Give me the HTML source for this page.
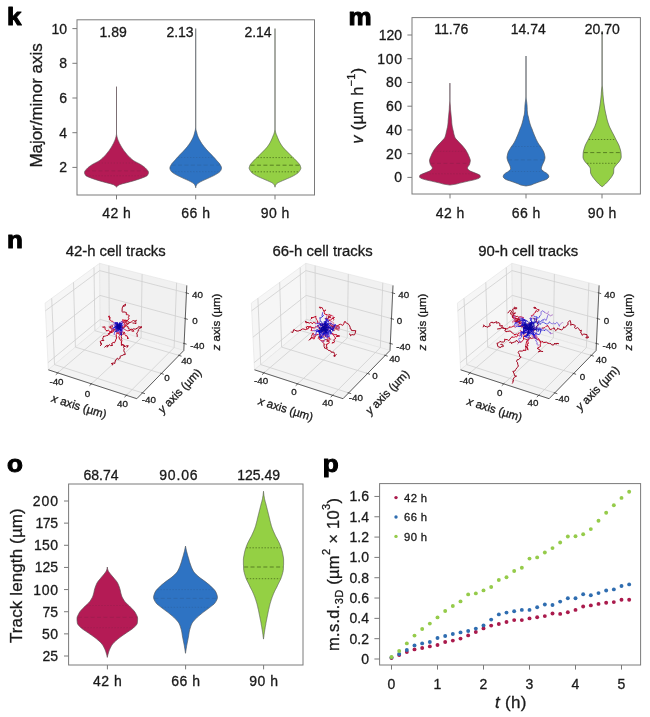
<!DOCTYPE html>
<html><head><meta charset="utf-8"><title>figure</title>
<style>
html,body{margin:0;padding:0;background:#fff;}
body{width:650px;height:717px;overflow:hidden;}
svg{display:block;font-family:"Liberation Sans",sans-serif;will-change:transform;}
text{stroke:#1a1a1a;stroke-width:0.3px;}
text.pl{stroke:#000;stroke-width:1px;}
</style></head><body>
<svg width="650" height="717" viewBox="0 0 650 717">
<rect width="650" height="717" fill="#fff"/>
<g id="plots3d">
<polygon points="48.3,369.8 100.3,326.2 99.6,263.3 45.1,303.1" fill="#f6f6f6" stroke="#e3e3e3" stroke-width="0.6"/>
<polygon points="100.3,326.2 183.8,350.5 186.8,285.4 99.6,263.3" fill="#f1f1f1" stroke="#e3e3e3" stroke-width="0.6"/>
<polygon points="48.3,369.8 136.8,398.7 183.8,350.5 100.3,326.2" fill="#f3f3f3" stroke="#e3e3e3" stroke-width="0.6"/>
<line x1="57.7" y1="372.9" x2="109.3" y2="328.8" stroke="#cfcfcf" stroke-width="0.8"/>
<line x1="109.3" y1="328.8" x2="108.9" y2="265.7" stroke="#cfcfcf" stroke-width="0.8"/>
<line x1="54.5" y1="364.6" x2="142.5" y2="392.9" stroke="#cfcfcf" stroke-width="0.8"/>
<line x1="54.5" y1="364.6" x2="51.7" y2="298.3" stroke="#cfcfcf" stroke-width="0.8"/>
<line x1="47.9" y1="362.7" x2="100.2" y2="319.4" stroke="#cfcfcf" stroke-width="0.8"/>
<line x1="100.2" y1="319.4" x2="184.1" y2="343.5" stroke="#cfcfcf" stroke-width="0.8"/>
<line x1="91.4" y1="383.9" x2="141.1" y2="338.0" stroke="#cfcfcf" stroke-width="0.8"/>
<line x1="141.1" y1="338.0" x2="142.1" y2="274.1" stroke="#cfcfcf" stroke-width="0.8"/>
<line x1="75.4" y1="347.1" x2="161.4" y2="373.5" stroke="#cfcfcf" stroke-width="0.8"/>
<line x1="75.4" y1="347.1" x2="73.5" y2="282.3" stroke="#cfcfcf" stroke-width="0.8"/>
<line x1="46.7" y1="337.2" x2="100.0" y2="295.4" stroke="#cfcfcf" stroke-width="0.8"/>
<line x1="100.0" y1="295.4" x2="185.3" y2="318.6" stroke="#cfcfcf" stroke-width="0.8"/>
<line x1="126.4" y1="395.3" x2="174.1" y2="347.6" stroke="#cfcfcf" stroke-width="0.8"/>
<line x1="174.1" y1="347.6" x2="176.6" y2="282.8" stroke="#cfcfcf" stroke-width="0.8"/>
<line x1="94.9" y1="330.7" x2="179.0" y2="355.4" stroke="#cfcfcf" stroke-width="0.8"/>
<line x1="94.9" y1="330.7" x2="94.0" y2="267.4" stroke="#cfcfcf" stroke-width="0.8"/>
<line x1="45.4" y1="310.8" x2="99.7" y2="270.6" stroke="#cfcfcf" stroke-width="0.8"/>
<line x1="99.7" y1="270.6" x2="186.5" y2="293.0" stroke="#cfcfcf" stroke-width="0.8"/>
<line x1="48.3" y1="369.8" x2="136.8" y2="398.7" stroke="#3a3a3a" stroke-width="0.8"/>
<line x1="136.8" y1="398.7" x2="183.8" y2="350.5" stroke="#3a3a3a" stroke-width="0.8"/>
<line x1="183.8" y1="350.5" x2="186.8" y2="285.4" stroke="#3a3a3a" stroke-width="0.8"/>
<line x1="58.5" y1="372.2" x2="55.8" y2="374.7" stroke="#3a3a3a" stroke-width="0.8"/>
<line x1="141.5" y1="392.6" x2="145.0" y2="393.7" stroke="#3a3a3a" stroke-width="0.8"/>
<line x1="183.1" y1="343.2" x2="186.6" y2="344.2" stroke="#3a3a3a" stroke-width="0.8"/>
<line x1="92.1" y1="383.2" x2="89.5" y2="385.7" stroke="#3a3a3a" stroke-width="0.8"/>
<line x1="160.4" y1="373.2" x2="163.8" y2="374.3" stroke="#3a3a3a" stroke-width="0.8"/>
<line x1="184.3" y1="318.3" x2="187.8" y2="319.4" stroke="#3a3a3a" stroke-width="0.8"/>
<line x1="127.2" y1="394.6" x2="124.5" y2="397.1" stroke="#3a3a3a" stroke-width="0.8"/>
<line x1="178.0" y1="355.1" x2="181.5" y2="356.2" stroke="#3a3a3a" stroke-width="0.8"/>
<line x1="185.5" y1="292.6" x2="188.9" y2="293.7" stroke="#3a3a3a" stroke-width="0.8"/>
<path d="M122.1 322.3 L123.1 321.7M124.4 324.1 L124.5 326.2M111.9 329.7 L111.3 331.5M113.9 328.0 L112.0 328.4M116.4 330.7 L117.6 331.8M119.4 331.1 L119.2 332.8M122.1 331.9 L124.4 332.3M114.8 330.2 L112.7 328.6M122.7 322.2 L122.6 320.0" fill="none" stroke="#dd5e86" stroke-width="1.0" stroke-linejoin="round" stroke-linecap="round"/>
<path d="M118.7 326.2 L118.1 327.1 L117.1 326.2 L118.3 326.9M111.0 325.1 L111.1 326.0 L110.7 326.4 L109.1 326.9M115.1 325.3 L115.6 326.4 L116.0 325.9 L115.8 325.5M120.7 333.0 L122.3 332.1 L123.3 332.5 L121.8 331.1M117.7 332.7 L116.5 332.2 L118.7 332.5 L118.6 333.1M120.7 326.8 L119.0 328.1 L120.1 328.5 L121.9 327.2M116.4 330.3 L117.6 330.3 L118.0 329.8 L118.4 329.9" fill="none" stroke="#dd5e86" stroke-width="0.75" stroke-linejoin="round" stroke-linecap="round"/>
<path d="M123.1 321.7 L123.9 320.4 L125.7 320.5 L127.3 320.5 L128.6 319.1M122.2 322.0 L123.8 322.8 L125.6 324.3 L126.7 323.7M124.5 326.2 L126.1 325.7 L127.8 326.5M113.4 322.6 L112.7 321.2 L112.0 321.4 L110.5 320.6 L109.8 319.7M111.3 331.5 L109.6 331.9 L108.7 330.2 L106.9 330.8M112.0 328.4 L112.1 329.9 L111.7 332.2M117.6 331.8 L116.8 333.7 L116.1 334.7 L116.3 335.9M119.7 331.1 L120.6 332.1 L120.1 334.1 L121.6 335.3M119.2 332.8 L118.9 333.8 L119.6 335.5 L118.7 336.7 L119.5 338.0M124.7 329.5 L125.3 329.8 L126.4 330.4 L127.7 330.9 L129.8 330.4M124.4 332.3 L124.9 333.4 L124.8 334.3 L125.7 335.9 L126.7 335.8M112.7 328.6 L113.5 331.5 L111.8 332.3M122.6 320.0 L124.3 320.1 L125.4 321.5 L125.0 322.3" fill="none" stroke="#d11433" stroke-width="1.0" stroke-linejoin="round" stroke-linecap="round"/>
<path d="M118.3 326.9 L118.1 327.6 L117.8 328.9 L117.3 328.5 L119.1 328.6M109.1 326.9 L110.4 328.0 L111.4 328.7 L111.0 327.7 L110.4 327.6M115.8 325.5 L116.4 325.3 L115.9 324.3 L115.2 323.7 L116.3 323.1M121.8 331.1 L121.3 329.3 L120.9 327.9 L122.1 328.7 L124.3 327.6M118.6 333.1 L116.4 333.1 L119.0 333.1 L119.7 332.9 L120.7 333.1M121.9 327.2 L123.4 327.0 L125.3 325.7 L124.6 323.3 L123.7 322.4M118.4 329.9 L118.7 329.1 L117.7 329.1 L117.3 329.6 L116.8 329.9" fill="none" stroke="#d11433" stroke-width="0.75" stroke-linejoin="round" stroke-linecap="round"/>
<path d="M128.6 319.1 L129.1 318.8 L128.3 317.4 L129.4 315.6 L127.7 314.7 L126.3 314.7 L126.3 312.9M126.7 323.7 L128.6 323.8 L128.8 322.5 L131.0 322.3 L132.1 321.4 L132.6 321.1 L133.6 320.0 L134.8 321.4M127.8 326.5 L128.5 329.0 L129.9 329.1 L131.3 330.0 L132.0 330.0 L133.5 328.8 L135.3 329.2 L136.3 328.6M109.8 319.7 L109.5 318.0 L108.9 317.0 L109.1 316.4 L109.6 316.2 L108.4 316.4 L109.8 317.0 L110.2 318.0M106.9 330.8 L105.5 329.9 L105.3 329.6 L104.9 327.9 L105.1 326.9 L103.6 326.9 L103.2 327.6 L103.0 327.6 L103.0 326.8M111.7 332.2 L110.2 332.6 L109.0 333.2 L108.6 334.6 L107.9 335.4 L106.3 335.7 L105.6 336.0 L103.5 336.4M116.3 335.9 L116.2 337.0 L116.7 338.0 L116.0 339.2 L115.4 341.0 L114.4 342.9 L113.1 342.3 L111.9 343.5M121.6 335.3 L121.2 336.8 L121.8 338.4 L121.4 339.2 L121.9 340.5 L121.6 341.9 L121.4 343.6 L121.4 345.1M119.5 338.0 L119.2 338.9 L121.0 340.4 L121.4 341.4 L121.3 343.1 L122.1 344.3 L123.7 345.1M129.8 330.4 L130.2 329.7 L131.7 329.3 L132.7 329.9 L134.1 331.2 L133.3 331.2 L132.1 331.2M126.7 335.8 L127.3 336.2 L128.0 338.3 L128.3 338.7 L128.5 338.4 L127.6 337.4 L127.5 338.6M111.8 332.3 L110.7 331.7 L109.7 333.7 L108.9 334.6 L108.4 333.8 L108.2 333.4 L108.9 333.7 L109.9 333.1M125.0 322.3 L126.8 322.2 L127.1 322.3 L126.9 321.2 L126.3 321.3 L125.9 321.3" fill="none" stroke="#ba0c29" stroke-width="1.0" stroke-linejoin="round" stroke-linecap="round"/>
<path d="M119.1 328.6 L118.2 329.6 L116.5 328.8 L117.4 328.5M110.4 327.6 L110.6 326.7 L111.6 325.8 L112.6 325.9M116.3 323.1 L117.2 323.6 L117.7 323.7 L117.5 324.1M124.3 327.6 L123.0 327.5 L121.8 328.3 L121.9 329.3M120.7 333.1 L121.6 332.6 L121.7 333.3 L120.8 333.8M123.7 322.4 L124.5 321.6 L124.8 319.9 L127.6 320.7M116.8 329.9 L115.6 330.6 L114.6 329.8 L114.5 329.2" fill="none" stroke="#ba0c29" stroke-width="0.75" stroke-linejoin="round" stroke-linecap="round"/>
<path d="M121.5 321.5 L122.1 322.3M122.2 323.9 L122.2 322.0M122.7 325.5 L124.4 324.1M115.4 322.8 L113.4 322.6M112.8 328.5 L111.9 329.7M114.4 327.3 L113.9 328.0M121.7 329.1 L119.7 331.1M123.3 328.5 L124.7 329.5" fill="none" stroke="#a563c2" stroke-width="1.0" stroke-linejoin="round" stroke-linecap="round"/>
<path d="M119.6 322.9 L119.9 323.8 L120.1 324.4 L120.0 325.5 L118.7 326.2M114.2 324.8 L113.3 324.1 L112.5 325.2 L111.8 325.1 L111.0 325.1M115.0 325.6 L114.7 326.1 L114.3 326.0 L115.1 325.9 L115.1 325.3M117.5 330.5 L119.7 329.4 L119.5 331.6 L119.4 333.6 L120.7 333.0M118.6 328.7 L120.0 330.2 L119.2 330.2 L118.7 330.7 L117.7 332.7M121.6 328.5 L121.8 327.3 L121.9 326.2 L122.2 327.4 L120.7 326.8M119.0 329.2 L118.2 329.5 L118.3 330.1 L117.1 330.2 L116.4 330.3" fill="none" stroke="#a563c2" stroke-width="0.75" stroke-linejoin="round" stroke-linecap="round"/>
<path d="M117.7 326.2 L117.9 327.6" fill="none" stroke="#a563c2" stroke-width="0.7" stroke-linejoin="round" stroke-linecap="round"/>
<path d="M126.3 312.9 L125.4 312.0 L122.4 312.0 L122.0 311.7 L122.2 308.9 L122.2 307.9 L123.2 306.3 L125.3 305.8 L125.5 304.0 L124.6 304.8 L123.1 305.7 L123.0 306.4M134.8 321.4 L136.4 320.3 L135.7 321.7 L135.8 322.4 L136.0 323.4 L136.0 323.7 L134.5 323.2 L132.8 323.0M136.3 328.6 L137.7 328.1 L138.8 326.4 L140.9 328.0 L141.1 326.2 L141.4 327.6 L139.8 328.0 L138.8 329.0 L138.5 329.7 L137.9 331.6 L137.4 332.6 L137.2 332.9 L136.7 333.1 L137.2 334.9 L137.2 336.5M103.5 336.4 L103.2 337.4 L102.6 339.0 L103.9 340.6 L101.7 340.5 L100.1 341.6 L100.7 343.0 L101.3 344.3 L100.4 345.7 L101.3 344.6 L101.3 343.1M111.9 343.5 L112.2 345.4 L112.6 345.4 L110.7 345.7 L109.3 344.6 L107.6 346.8 L106.9 347.2 L107.5 346.1 L107.4 345.3 L106.1 345.9 L104.7 347.2M121.4 345.1 L122.6 344.8 L124.0 346.6 L125.6 346.4 L126.5 345.8 L128.3 345.8 L127.3 346.5 L126.9 347.5 L127.4 347.1 L127.7 346.3M123.7 345.1 L124.7 345.5 L123.5 347.5 L124.3 348.7 L123.8 350.4 L124.2 352.0 L124.8 352.6 L125.3 354.5 L123.1 354.8 L122.7 355.4 L121.4 355.6 L120.0 356.5 L120.1 358.1 L118.8 359.4 L117.3 358.1 L117.1 358.8 L115.5 360.0 L115.0 362.1 L114.8 363.5 L113.5 363.0 L111.4 363.5 L112.4 363.5 L112.9 364.9 L112.4 365.0 L112.3 364.6" fill="none" stroke="#a4041f" stroke-width="1.0" stroke-linejoin="round" stroke-linecap="round"/>
<path d="M117.4 328.5 L118.4 327.6 L119.4 327.3 L119.1 328.1 L119.8 328.9M112.6 325.9 L112.2 327.4 L110.9 326.7 L110.2 326.6 L110.2 327.1M117.5 324.1 L116.7 324.5 L116.7 323.8 L116.8 322.9 L117.1 322.6M121.9 329.3 L122.4 327.5 L123.0 326.7 L122.1 326.9 L120.6 326.9M120.8 333.8 L123.0 334.4 L124.1 333.5 L123.6 332.7 L123.4 334.0M127.6 320.7 L129.4 322.7 L128.2 324.1 L125.7 325.7 L125.1 326.6M114.5 329.2 L114.0 329.3 L113.7 329.8 L113.1 330.3 L113.1 330.8" fill="none" stroke="#a4041f" stroke-width="0.75" stroke-linejoin="round" stroke-linecap="round"/>
<path d="M119.5 323.1 L121.5 321.5M121.1 325.5 L122.7 325.5M113.8 327.9 L112.8 328.5M115.5 326.3 L114.4 327.3M118.3 330.2 L116.4 330.7M120.8 329.9 L119.4 331.1M121.4 330.6 L122.1 331.9M115.8 328.9 L114.8 330.2M121.4 323.8 L122.7 322.2" fill="none" stroke="#5b40d9" stroke-width="1.0" stroke-linejoin="round" stroke-linecap="round"/>
<path d="M117.7 323.3 L116.9 322.8 L118.6 323.5 L119.6 322.9M115.7 323.7 L115.0 322.6 L114.7 323.5 L114.2 324.8M117.4 326.5 L116.3 326.8 L115.1 326.6 L115.0 325.6M118.0 331.1 L116.2 331.7 L117.2 331.5 L117.5 330.5M116.9 326.8 L115.2 328.3 L116.6 327.6 L118.6 328.7M120.1 332.4 L122.0 330.4 L122.9 330.3 L121.6 328.5M118.5 330.4 L118.6 329.6 L119.4 329.3 L119.0 329.2" fill="none" stroke="#5b40d9" stroke-width="0.75" stroke-linejoin="round" stroke-linecap="round"/>
<path d="M119.3 324.6 L118.3 324.7 L117.7 326.2M118.0 325.4 L119.0 326.0 L119.7 325.4" fill="none" stroke="#5b40d9" stroke-width="0.7" stroke-linejoin="round" stroke-linecap="round"/>
<path d="M119.9 323.4 L122.2 323.9M117.4 323.0 L115.4 322.8M115.1 327.1 L113.8 327.9M118.5 328.9 L118.3 330.2M119.5 328.5 L121.7 329.1M119.1 329.3 L120.8 329.9M121.3 327.0 L122.6 327.9 L123.3 328.5M120.4 330.3 L121.4 330.6M116.2 327.4 L115.8 328.9" fill="none" stroke="#1914d8" stroke-width="1.0" stroke-linejoin="round" stroke-linecap="round"/>
<path d="M117.5 324.1 L116.9 323.4 L117.8 324.2 L117.7 323.3M117.4 324.2 L116.4 323.0 L115.7 322.9 L115.7 323.7M117.0 325.6 L117.4 326.2 L117.8 326.1 L117.4 326.5M118.0 327.1 L119.6 327.5 L118.1 329.4 L118.0 331.1M120.9 327.6 L118.8 328.9 L118.0 327.1 L116.9 326.8M121.6 334.7 L120.1 334.8 L121.0 333.3 L120.1 332.4M116.3 328.8 L117.7 329.0 L118.4 330.0 L118.5 330.4" fill="none" stroke="#1914d8" stroke-width="0.75" stroke-linejoin="round" stroke-linecap="round"/>
<path d="M120.5 324.6 L120.0 324.1 L119.4 324.1 L119.3 324.6M118.1 326.9 L117.7 325.6 L117.3 325.9 L118.0 325.4M116.7 325.8 L115.3 326.4 L115.9 327.1 L117.2 327.7M115.2 331.2 L114.6 332.2 L114.3 333.4 L114.2 334.5" fill="none" stroke="#1914d8" stroke-width="0.7" stroke-linejoin="round" stroke-linecap="round"/>
<path d="M119.4 325.1 L119.5 323.1M119.7 325.0 L119.9 323.4M120.2 326.9 L121.1 325.5M117.7 324.7 L117.4 323.0M117.0 326.6 L116.5 326.9 L115.1 327.1M117.4 326.7 L115.5 326.3M118.6 326.7 L118.5 328.9M118.8 327.7 L119.5 328.5M119.1 327.8 L119.1 329.3M119.5 327.4 L121.3 327.0M119.9 327.7 L120.4 330.3M117.3 326.9 L116.2 327.4M119.6 325.6 L121.5 324.9 L121.4 323.8" fill="none" stroke="#110cba" stroke-width="1.0" stroke-linejoin="round" stroke-linecap="round"/>
<path d="M119.4 327.0 L119.0 325.4 L118.2 324.6 L117.5 324.1M119.9 325.3 L120.0 324.7 L119.2 324.4 L117.4 324.2M119.5 326.4 L118.3 326.0 L117.6 325.9 L117.0 325.6M117.0 324.5 L115.1 323.5 L116.4 325.2 L118.0 327.1M118.5 328.1 L119.1 326.7 L120.1 327.1 L120.9 327.6M121.0 329.5 L121.1 331.5 L121.3 332.2 L121.6 334.7M117.5 328.3 L116.5 328.7 L115.8 329.1 L116.3 328.8" fill="none" stroke="#110cba" stroke-width="0.75" stroke-linejoin="round" stroke-linecap="round"/>
<path d="M120.9 327.0 L120.6 326.1 L120.5 324.6M117.1 327.9 L117.6 327.7 L118.1 326.9M118.6 325.9 L117.8 325.6 L117.5 325.9 L116.7 325.8M116.1 331.6 L115.1 331.8 L115.4 331.5 L115.2 331.2" fill="none" stroke="#110cba" stroke-width="0.7" stroke-linejoin="round" stroke-linecap="round"/>
<path d="M118.5 326.0 L119.4 325.1M118.5 326.0 L119.7 325.0M118.5 326.0 L120.2 326.9M118.5 326.0 L117.7 324.7M118.5 326.0 L117.0 326.6M118.5 326.0 L117.4 326.7M118.5 326.0 L118.6 326.7M118.5 326.0 L118.8 327.7M118.5 326.0 L119.1 327.8M118.5 326.0 L119.5 327.4M118.5 326.0 L119.5 327.1 L119.9 327.7M118.5 326.0 L117.3 326.9M118.5 326.0 L119.6 325.6" fill="none" stroke="#09049b" stroke-width="1.0" stroke-linejoin="round" stroke-linecap="round"/>
<path d="M119.6 325.7 L120.6 325.5 L120.0 326.3 L119.4 327.0M119.2 324.9 L119.3 326.3 L118.5 326.1 L119.9 325.3M119.8 326.4 L120.6 326.4 L120.7 325.7 L119.5 326.4M120.2 326.7 L119.5 325.0 L118.9 325.4 L117.0 324.5M116.8 324.9 L117.5 326.4 L118.0 327.7 L118.5 328.1M120.0 327.1 L119.2 328.0 L119.2 329.3 L121.0 329.5M117.8 326.3 L117.3 326.3 L117.8 327.3 L117.5 328.3" fill="none" stroke="#09049b" stroke-width="0.75" stroke-linejoin="round" stroke-linecap="round"/>
<path d="M118.4 328.0 L120.0 328.3 L120.9 327.0M118.4 325.4 L118.5 326.3 L117.6 327.6 L117.1 327.9M118.7 325.1 L119.1 326.0 L118.6 325.2 L119.7 325.1 L118.6 325.9M118.5 327.6 L117.3 328.4 L116.9 330.0 L116.7 330.4 L116.1 331.6" fill="none" stroke="#09049b" stroke-width="0.7" stroke-linejoin="round" stroke-linecap="round"/>
<text x="56.5" y="385.0" font-size="9.8" text-anchor="middle" fill="#1a1a1a" >-40</text>
<text x="87.6" y="397.4" font-size="9.8" text-anchor="middle" fill="#1a1a1a" >0</text>
<text x="122.5" y="407.4" font-size="9.8" text-anchor="middle" fill="#1a1a1a" >40</text>
<text x="186.6" y="364.0" font-size="9.8" text-anchor="middle" fill="#1a1a1a" >40</text>
<text x="167.1" y="381.2" font-size="9.8" text-anchor="middle" fill="#1a1a1a" >0</text>
<text x="148.8" y="403.0" font-size="9.8" text-anchor="middle" fill="#1a1a1a" >-40</text>
<text x="197.5" y="298.1" font-size="9.8" text-anchor="middle" fill="#1a1a1a" >40</text>
<text x="195.1" y="323.8" font-size="9.8" text-anchor="middle" fill="#1a1a1a" >0</text>
<text x="197.4" y="349.3" font-size="9.8" text-anchor="middle" fill="#1a1a1a" >-40</text>
<text transform="translate(78.0 410.0) rotate(17.3)" font-size="11.6" text-anchor="middle" fill="#1a1a1a"><tspan font-style="italic">x</tspan> axis (µm)</text>
<text transform="translate(182.4 393.6) rotate(-46)" font-size="11.6" text-anchor="middle" fill="#1a1a1a"><tspan font-style="italic">y</tspan> axis (µm)</text>
<text transform="translate(220.0 322.0) rotate(-90)" font-size="11.6" text-anchor="middle" fill="#1a1a1a"><tspan font-style="italic">z</tspan> axis (µm)</text>
<text x="115.7" y="255.6" font-size="14.9" text-anchor="middle" fill="#1a1a1a">42-h cell tracks</text>
<polygon points="254.5,369.8 306.5,326.2 305.8,263.3 251.3,303.1" fill="#f6f6f6" stroke="#e3e3e3" stroke-width="0.6"/>
<polygon points="306.5,326.2 390.0,350.5 393.0,285.4 305.8,263.3" fill="#f1f1f1" stroke="#e3e3e3" stroke-width="0.6"/>
<polygon points="254.5,369.8 343.0,398.7 390.0,350.5 306.5,326.2" fill="#f3f3f3" stroke="#e3e3e3" stroke-width="0.6"/>
<line x1="263.9" y1="372.9" x2="315.5" y2="328.8" stroke="#cfcfcf" stroke-width="0.8"/>
<line x1="315.5" y1="328.8" x2="315.1" y2="265.7" stroke="#cfcfcf" stroke-width="0.8"/>
<line x1="260.7" y1="364.6" x2="348.7" y2="392.9" stroke="#cfcfcf" stroke-width="0.8"/>
<line x1="260.7" y1="364.6" x2="257.9" y2="298.3" stroke="#cfcfcf" stroke-width="0.8"/>
<line x1="254.1" y1="362.7" x2="306.4" y2="319.4" stroke="#cfcfcf" stroke-width="0.8"/>
<line x1="306.4" y1="319.4" x2="390.3" y2="343.5" stroke="#cfcfcf" stroke-width="0.8"/>
<line x1="297.6" y1="383.9" x2="347.3" y2="338.0" stroke="#cfcfcf" stroke-width="0.8"/>
<line x1="347.3" y1="338.0" x2="348.3" y2="274.1" stroke="#cfcfcf" stroke-width="0.8"/>
<line x1="281.6" y1="347.1" x2="367.6" y2="373.5" stroke="#cfcfcf" stroke-width="0.8"/>
<line x1="281.6" y1="347.1" x2="279.7" y2="282.3" stroke="#cfcfcf" stroke-width="0.8"/>
<line x1="252.9" y1="337.2" x2="306.2" y2="295.4" stroke="#cfcfcf" stroke-width="0.8"/>
<line x1="306.2" y1="295.4" x2="391.5" y2="318.6" stroke="#cfcfcf" stroke-width="0.8"/>
<line x1="332.6" y1="395.3" x2="380.3" y2="347.6" stroke="#cfcfcf" stroke-width="0.8"/>
<line x1="380.3" y1="347.6" x2="382.8" y2="282.8" stroke="#cfcfcf" stroke-width="0.8"/>
<line x1="301.1" y1="330.7" x2="385.2" y2="355.4" stroke="#cfcfcf" stroke-width="0.8"/>
<line x1="301.1" y1="330.7" x2="300.2" y2="267.4" stroke="#cfcfcf" stroke-width="0.8"/>
<line x1="251.6" y1="310.8" x2="305.9" y2="270.6" stroke="#cfcfcf" stroke-width="0.8"/>
<line x1="305.9" y1="270.6" x2="392.7" y2="293.0" stroke="#cfcfcf" stroke-width="0.8"/>
<line x1="254.5" y1="369.8" x2="343.0" y2="398.7" stroke="#3a3a3a" stroke-width="0.8"/>
<line x1="343.0" y1="398.7" x2="390.0" y2="350.5" stroke="#3a3a3a" stroke-width="0.8"/>
<line x1="390.0" y1="350.5" x2="393.0" y2="285.4" stroke="#3a3a3a" stroke-width="0.8"/>
<line x1="264.7" y1="372.2" x2="262.0" y2="374.7" stroke="#3a3a3a" stroke-width="0.8"/>
<line x1="347.7" y1="392.6" x2="351.2" y2="393.7" stroke="#3a3a3a" stroke-width="0.8"/>
<line x1="389.3" y1="343.2" x2="392.8" y2="344.2" stroke="#3a3a3a" stroke-width="0.8"/>
<line x1="298.3" y1="383.2" x2="295.7" y2="385.7" stroke="#3a3a3a" stroke-width="0.8"/>
<line x1="366.6" y1="373.2" x2="370.0" y2="374.3" stroke="#3a3a3a" stroke-width="0.8"/>
<line x1="390.5" y1="318.3" x2="394.0" y2="319.4" stroke="#3a3a3a" stroke-width="0.8"/>
<line x1="333.4" y1="394.6" x2="330.7" y2="397.1" stroke="#3a3a3a" stroke-width="0.8"/>
<line x1="384.2" y1="355.1" x2="387.7" y2="356.2" stroke="#3a3a3a" stroke-width="0.8"/>
<line x1="391.7" y1="292.6" x2="395.1" y2="293.7" stroke="#3a3a3a" stroke-width="0.8"/>
<path d="M326.5 317.3 L326.7 316.7 L327.1 314.7M315.3 327.4 L314.1 328.0M319.8 334.0 L317.8 334.5M331.8 334.1 L333.2 334.6M332.2 329.4 L332.4 328.1 L333.7 327.0M330.4 332.8 L331.0 333.4M313.7 335.3 L313.8 337.0M327.8 338.5 L327.9 339.8M319.3 322.1 L317.6 322.4M326.7 319.3 L329.4 320.5M313.0 330.6 L311.2 330.6" fill="none" stroke="#dd5e86" stroke-width="1.0" stroke-linejoin="round" stroke-linecap="round"/>
<path d="M320.3 325.6 L320.5 326.3 L320.2 325.9 L319.7 324.8 L318.9 325.3M327.3 335.1 L328.0 336.0 L327.6 337.8 L327.5 336.4 L328.9 336.9M322.4 323.8 L321.4 323.5 L322.1 323.7 L323.2 324.3 L321.3 325.8M339.4 328.6 L339.7 329.1 L338.0 329.0 L337.9 327.5 L339.4 327.4M322.6 334.7 L322.2 333.8 L322.5 334.4 L324.0 334.3 L323.6 334.8M330.9 321.2 L333.6 322.6 L333.9 324.7 L331.4 326.7 L332.6 326.6M322.3 328.3 L324.8 328.5 L326.8 328.3 L328.5 328.5 L327.9 327.0M329.0 319.4 L330.5 319.3 L332.2 318.2 L333.4 316.0 L330.9 315.1M327.2 336.7 L326.6 336.1 L326.1 335.3 L326.6 335.8 L327.1 335.9" fill="none" stroke="#dd5e86" stroke-width="0.75" stroke-linejoin="round" stroke-linecap="round"/>
<path d="M327.1 314.7 L324.7 314.1 L324.3 312.8 L324.2 311.5 L325.6 310.2M315.9 323.4 L315.0 323.1 L313.9 322.2 L312.3 323.7M314.1 328.0 L312.0 327.4 L311.0 327.3 L310.6 326.2 L308.9 327.1M317.8 334.5 L316.7 334.3 L314.5 335.1 L313.0 333.2M320.9 336.6 L318.9 337.3 L319.3 339.4 L321.7 340.9M333.2 334.6 L334.2 336.3 L334.9 336.8 L335.5 338.6M333.7 327.0 L334.8 325.7 L336.3 325.5 L337.2 325.9 L339.7 324.5M331.0 333.4 L333.0 333.4 L333.9 334.6 L334.6 334.5 L336.6 334.9M313.8 337.0 L313.3 337.5 L312.2 337.9 L314.1 339.1 L315.1 336.5M327.9 339.8 L327.6 340.4 L329.4 342.8 L327.2 344.1M317.6 322.4 L317.3 320.5 L316.4 319.2 L315.7 317.2 L315.8 316.4M329.4 320.5 L330.6 320.2 L331.7 319.3 L332.7 318.4M311.2 330.6 L311.9 328.0 L310.1 326.9 L307.7 326.6" fill="none" stroke="#d11433" stroke-width="1.0" stroke-linejoin="round" stroke-linecap="round"/>
<path d="M318.9 325.3 L317.9 326.0 L317.3 325.9 L317.2 326.8 L316.0 326.6M328.9 336.9 L329.1 337.9 L329.9 338.4 L328.6 337.9 L330.3 339.0M321.3 325.8 L319.8 324.3 L321.5 324.7 L322.6 325.9 L323.3 325.9M339.4 327.4 L338.5 328.2 L337.6 328.7 L336.8 328.1 L335.9 326.5M323.6 334.8 L325.5 334.7 L324.5 335.1 L325.9 335.1 L325.5 336.6M332.6 326.6 L333.2 324.8 L331.0 323.2 L330.4 324.8 L333.4 327.1M327.9 327.0 L326.0 325.0 L324.3 325.4 L325.9 327.5 L326.9 327.8M330.9 315.1 L331.5 315.8 L329.8 316.4 L328.7 316.9 L330.7 317.6M327.1 335.9 L326.5 335.1 L326.9 335.5 L327.5 335.5 L327.4 336.2" fill="none" stroke="#d11433" stroke-width="0.75" stroke-linejoin="round" stroke-linecap="round"/>
<path d="M325.6 310.2 L324.9 310.6 L323.8 311.3 L323.1 309.6 L321.9 307.3 L320.4 308.3 L319.8 307.1M312.3 323.7 L310.6 322.0 L309.4 323.4 L308.1 322.4 L305.9 322.8 L305.5 322.1 L305.6 321.5M308.9 327.1 L308.5 328.6 L306.6 329.0 L305.8 329.8 L304.0 329.1 L302.5 328.9 L300.9 329.9 L300.5 330.3M313.0 333.2 L311.5 336.1 L311.9 336.4 L311.1 337.9 L310.3 339.3 L311.0 338.2M321.7 340.9 L324.4 340.8 L322.4 341.8 L324.5 344.2 L324.0 344.8M335.5 338.6 L333.7 339.8 L334.6 341.9 L332.5 343.0 L331.9 343.1 L332.8 342.4 L333.8 342.7M339.7 324.5 L340.6 324.3 L342.4 325.2 L342.6 325.5 L343.8 323.8 L344.4 321.8 L345.2 321.7M336.6 334.9 L337.0 335.6 L339.0 335.7 L338.9 336.4 L339.6 336.0 L338.2 336.4 L336.4 336.6M315.1 336.5 L316.2 335.2M327.2 344.1 L326.0 344.5 L327.0 346.2 L326.2 346.4 L326.8 347.9 L326.5 347.8 L326.9 348.3 L327.0 347.4M315.8 316.4 L312.9 317.6 L312.1 317.7 L311.1 317.5 L312.6 317.5 L311.9 318.0 L310.9 319.1M332.7 318.4 L334.5 317.5 L333.4 317.6 L333.3 318.1 L334.0 319.6 L333.6 320.0M307.7 326.6 L307.5 326.2 L307.1 326.9 L306.3 327.3 L306.3 326.9 L306.7 328.6 L306.8 329.2" fill="none" stroke="#ba0c29" stroke-width="1.0" stroke-linejoin="round" stroke-linecap="round"/>
<path d="M316.0 326.6 L316.6 326.7 L317.9 327.0 L319.4 327.6 L319.1 329.0 L320.1 329.3M330.3 339.0 L329.2 340.2 L329.2 341.4 L328.3 340.2 L326.8 339.8 L325.6 339.6M323.3 325.9 L324.3 327.4 L325.8 327.7 L327.2 326.0 L324.7 325.6 L326.0 325.8M335.9 326.5 L338.1 325.7 L339.6 327.1 L338.2 326.6 L337.3 326.2 L336.5 327.1M325.5 336.6 L324.5 337.1 L323.1 336.5 L322.8 335.6 L321.1 335.6 L321.4 336.5M333.4 327.1 L333.2 329.3 L334.7 327.8 L335.8 328.2 L333.9 331.1 L332.2 329.4M326.9 327.8 L328.5 327.4 L329.6 327.0 L328.6 328.3 L327.8 329.1 L328.3 329.6M330.7 317.6 L328.4 316.6 L328.3 318.0 L329.6 317.3 L330.5 315.2 L329.1 314.5M327.4 336.2 L326.3 335.8 L325.9 336.0 L325.8 336.5 L326.2 336.4 L327.1 335.8" fill="none" stroke="#ba0c29" stroke-width="0.75" stroke-linejoin="round" stroke-linecap="round"/>
<path d="M326.0 319.0 L326.5 317.3M317.7 323.4 L315.9 323.4M317.7 325.2 L315.9 327.4 L315.3 327.4M320.7 334.9 L320.9 336.6M330.5 327.8 L332.2 329.4M330.4 331.1 L330.4 332.8M315.7 334.6 L314.5 334.9 L313.7 335.3M326.9 337.4 L327.8 338.5M320.2 324.3 L319.3 322.1M326.6 322.3 L326.7 319.3M314.9 330.8 L313.0 330.6" fill="none" stroke="#a563c2" stroke-width="1.0" stroke-linejoin="round" stroke-linecap="round"/>
<path d="M322.5 327.8 L321.6 327.4 L321.8 326.2 L321.9 325.7 L320.3 325.6M328.4 331.7 L328.6 332.1 L326.7 333.0 L327.0 334.0 L327.3 335.1M326.2 323.7 L325.0 324.3 L323.5 323.8 L324.4 323.1 L322.4 323.8M335.9 325.9 L336.1 327.4 L338.4 327.1 L339.5 328.1 L339.4 328.6M321.0 334.6 L322.9 335.0 L322.5 335.9 L322.4 335.4 L322.6 334.7M328.5 332.5 L327.3 329.6 L327.6 327.3 L330.5 324.8 L330.9 321.2M325.5 333.5 L326.3 331.9 L324.9 331.5 L323.9 330.2 L322.3 328.3M328.5 324.7 L328.9 324.0 L328.6 322.7 L328.4 320.4 L329.0 319.4M326.9 335.9 L327.0 336.6 L326.6 337.0 L326.8 335.9 L327.2 336.7" fill="none" stroke="#a563c2" stroke-width="0.75" stroke-linejoin="round" stroke-linecap="round"/>
<path d="M324.9 339.7 L324.6 340.4 L323.7 341.9 L321.3 341.0" fill="none" stroke="#a563c2" stroke-width="0.7" stroke-linejoin="round" stroke-linecap="round"/>
<path d="M319.8 307.1 L320.0 306.9 L320.2 307.0 L320.0 307.8M305.6 321.5 L307.4 322.5 L307.8 322.5M300.5 330.3 L299.9 330.3 L298.0 331.2 L296.3 330.7 L296.5 331.1 L293.8 329.5 L292.9 332.1 L293.1 332.1 L292.4 332.5 L291.8 331.9 L291.7 332.3 L291.5 332.1M311.0 338.2 L312.0 337.2 L311.0 338.4 L309.0 340.1M324.0 344.8 L324.1 346.5 L324.8 348.3 L325.8 348.4 L327.8 349.5 L328.5 350.5 L329.1 350.4 L331.2 351.4 L331.2 352.2 L333.9 352.2 L334.2 353.2 L334.7 354.7 L335.0 356.5 L333.6 355.8 L334.0 355.6 L335.2 355.4 L336.3 354.6M345.2 321.7 L346.7 323.4 L347.8 323.6 L349.0 324.7 L349.6 325.9 L350.2 327.2 L350.1 328.6 L351.1 328.9 L351.4 330.5 L351.6 330.6 L355.8 330.7 L355.1 333.4 L354.6 334.7 L353.9 334.9 L351.9 334.6 L350.5 335.8 L350.7 335.0 L350.4 334.9 L350.0 335.0 L349.7 333.9" fill="none" stroke="#a4041f" stroke-width="1.0" stroke-linejoin="round" stroke-linecap="round"/>
<path d="M320.1 329.3 L320.4 329.8 L319.3 329.9 L318.9 331.3 L320.5 330.6M325.6 339.6 L326.9 339.9 L327.5 340.3 L327.0 342.0 L327.3 341.4M326.0 325.8 L327.8 324.8 L329.2 323.5 L330.4 325.1 L332.2 326.4M336.5 327.1 L335.9 327.8 L336.5 328.4 L336.6 329.5 L338.9 330.2M321.4 336.5 L319.8 337.1 L318.6 336.6 L319.3 337.7 L318.1 338.1M332.2 329.4 L331.2 329.0 L333.1 327.4 L333.4 326.4 L335.0 325.9M328.3 329.6 L326.2 328.7 L327.0 329.9 L325.0 331.3 L322.8 332.4M329.1 314.5 L328.5 316.9 L328.4 318.5 L326.9 318.5 L325.1 318.6M327.1 335.8 L327.6 335.2 L327.3 334.1 L327.3 333.7 L327.4 333.3" fill="none" stroke="#a4041f" stroke-width="0.75" stroke-linejoin="round" stroke-linecap="round"/>
<path d="M325.5 322.0 L325.9 320.6 L326.0 319.0M319.6 333.7 L320.7 334.9M330.3 332.4 L331.8 334.1M329.3 327.4 L330.5 327.8M327.0 332.9 L330.4 331.1M316.4 331.7 L315.7 334.6M325.5 336.0 L326.9 337.4M317.0 329.9 L316.0 330.5 L314.9 330.8" fill="none" stroke="#5b40d9" stroke-width="1.0" stroke-linejoin="round" stroke-linecap="round"/>
<path d="M325.9 328.8 L325.8 328.3 L325.3 327.8 L323.6 328.2 L322.5 327.8M331.0 328.7 L329.9 329.0 L329.6 329.6 L329.3 330.7 L328.4 331.7M328.4 321.3 L327.8 320.6 L327.1 321.4 L325.5 321.9 L326.2 323.7M332.0 324.3 L332.7 324.7 L334.5 325.5 L335.3 324.4 L335.9 325.9M321.0 332.6 L321.8 332.6 L322.1 333.8 L320.9 333.3 L321.0 334.6M327.9 332.1 L326.8 331.5 L328.1 331.9 L330.5 330.0 L328.5 332.5M327.5 336.9 L328.3 334.7 L328.8 333.3 L328.1 333.7 L325.5 333.5M327.8 328.6 L329.9 328.0 L329.9 326.5 L328.6 326.1 L328.5 324.7M326.0 334.4 L327.1 335.0 L328.0 335.2 L327.7 335.8 L326.9 335.9" fill="none" stroke="#5b40d9" stroke-width="0.75" stroke-linejoin="round" stroke-linecap="round"/>
<path d="M322.2 316.6 L321.8 315.7 L322.6 314.0 L322.5 312.4 L322.3 314.9M321.6 337.5 L323.8 337.7 L324.3 338.7 L324.9 339.7M321.5 328.4 L321.5 330.6 L319.2 331.1 L317.8 329.5 L319.0 330.6" fill="none" stroke="#5b40d9" stroke-width="0.7" stroke-linejoin="round" stroke-linecap="round"/>
<path d="M325.9 324.5 L325.0 321.6 L325.5 322.0M320.5 324.0 L318.8 323.9 L317.7 323.4M319.2 328.0 L319.6 327.4 L317.7 325.2M318.3 330.8 L319.8 334.0M320.3 332.8 L319.6 333.7M330.4 330.8 L330.5 331.8 L330.3 332.4M326.1 323.9 L329.3 327.4M319.2 331.9 L316.6 331.2 L316.4 331.7M324.6 333.6 L325.0 334.6 L325.5 336.0M323.3 324.3 L321.9 324.0 L320.2 324.3M327.2 323.7 L326.6 322.3M319.8 331.9 L318.2 330.3 L317.0 329.9" fill="none" stroke="#1914d8" stroke-width="1.0" stroke-linejoin="round" stroke-linecap="round"/>
<path d="M327.9 329.2 L328.2 329.7 L326.8 330.5 L327.2 329.9 L325.9 328.8M332.0 327.0 L333.1 328.4 L333.0 330.0 L332.3 329.3 L331.0 328.7M326.9 320.6 L325.8 318.7 L328.0 319.8 L327.9 321.9 L328.4 321.3M327.0 324.7 L328.0 324.3 L327.7 323.3 L330.1 323.2 L332.0 324.3M323.4 334.1 L323.3 335.6 L323.2 334.6 L322.5 333.3 L321.0 332.6M320.3 337.4 L321.8 338.4 L322.2 335.4 L324.3 332.4 L327.9 332.1M323.4 333.7 L326.1 334.1 L328.9 334.0 L329.3 336.5 L327.5 336.9M333.0 330.1 L331.2 329.3 L329.9 328.6 L328.6 327.2 L327.8 328.6M324.9 331.2 L325.5 332.1 L325.7 333.0 L325.7 333.3 L326.0 334.4" fill="none" stroke="#1914d8" stroke-width="0.75" stroke-linejoin="round" stroke-linecap="round"/>
<path d="M320.0 317.9 L321.4 317.7 L322.7 316.3 L323.6 315.4 L322.2 316.6M334.1 325.2 L335.5 324.7 L334.4 325.4 L334.1 326.5 L333.8 329.0 L332.1 328.2M322.0 336.9 L320.4 337.4 L320.7 339.0 L321.6 337.5M324.7 324.1 L325.1 325.1 L323.9 326.2 L322.8 326.5 L321.5 328.4" fill="none" stroke="#1914d8" stroke-width="0.7" stroke-linejoin="round" stroke-linecap="round"/>
<path d="M324.5 326.5 L326.0 324.4 L325.9 324.5M322.4 324.9 L320.8 325.9 L320.5 324.0M321.4 328.5 L319.2 328.0M321.9 332.0 L321.0 330.6 L318.3 330.8M323.5 330.9 L320.7 332.3 L320.3 332.8M327.2 330.2 L328.1 330.8 L330.4 330.8M326.2 326.3 L326.1 323.9M325.4 330.2 L326.4 330.7 L327.0 332.9M321.7 330.9 L320.6 332.1 L319.2 331.9M325.7 331.3 L324.8 332.6 L324.6 333.6M322.0 327.5 L323.3 324.3M326.7 327.2 L325.8 326.2 L327.2 323.7M321.7 330.0 L320.3 330.5 L319.8 331.9" fill="none" stroke="#110cba" stroke-width="1.0" stroke-linejoin="round" stroke-linecap="round"/>
<path d="M324.2 329.3 L324.6 330.4 L326.1 330.3 L327.2 329.2 L327.9 329.2M328.1 327.4 L328.2 328.3 L329.0 327.5 L330.4 327.6 L332.0 327.0M325.3 323.3 L324.4 323.3 L325.6 323.3 L325.7 321.4 L326.9 320.6M325.6 327.8 L326.7 327.9 L328.0 327.2 L327.3 325.5 L327.0 324.7M325.6 332.2 L325.4 332.9 L324.6 332.3 L323.7 332.7 L323.4 334.1M321.5 329.7 L319.6 332.7 L320.4 335.8 L319.2 336.5 L320.3 337.4M327.5 329.2 L324.8 328.7 L323.0 330.3 L323.6 332.8 L323.4 333.7M326.3 332.9 L329.3 333.0 L330.6 334.1 L331.8 331.8 L333.0 330.1M324.3 328.9 L323.7 329.7 L323.4 330.5 L324.4 330.4 L324.9 331.2" fill="none" stroke="#110cba" stroke-width="0.75" stroke-linejoin="round" stroke-linecap="round"/>
<path d="M322.3 324.3 L321.7 321.8 L320.1 321.2 L320.2 319.6 L320.0 317.9M332.4 329.7 L333.3 330.5 L332.8 329.4 L333.8 328.1 L334.3 327.7 L334.1 325.2M319.6 331.1 L319.9 331.9 L319.2 334.1 L319.6 335.8 L322.0 336.9M326.0 326.1 L324.6 323.9 L323.9 321.7 L325.3 321.6 L324.7 324.1" fill="none" stroke="#110cba" stroke-width="0.7" stroke-linejoin="round" stroke-linecap="round"/>
<path d="M323.8 328.5 L325.0 327.5 L324.5 326.5M323.8 328.5 L323.4 326.0 L322.4 324.9M323.8 328.5 L322.7 328.9 L321.4 328.5M323.8 328.5 L323.2 329.5 L321.9 332.0M323.8 328.5 L322.9 329.9 L323.5 330.9M323.8 328.5 L326.0 328.8 L325.8 329.8 L327.2 330.2M323.8 328.5 L324.6 327.9 L326.2 326.3M323.8 328.5 L324.2 329.9 L325.4 330.2M323.8 328.5 L322.3 329.4 L321.7 330.9M323.8 328.5 L323.8 329.1 L325.7 331.3M323.8 328.5 L324.4 327.3 L322.0 327.5M323.8 328.5 L325.6 328.6 L326.7 327.2M323.8 328.5 L322.6 329.8 L321.7 330.0" fill="none" stroke="#09049b" stroke-width="1.0" stroke-linejoin="round" stroke-linecap="round"/>
<path d="M324.4 327.3 L325.1 327.7 L325.3 329.1 L324.2 329.3M323.9 328.2 L325.5 328.1 L327.4 327.3 L328.1 327.4M322.5 327.2 L324.3 326.8 L325.8 325.4 L325.3 323.3M323.7 328.3 L324.0 329.1 L324.4 327.5 L325.6 327.8M325.0 329.4 L326.3 330.5 L326.3 331.0 L325.6 332.2M324.1 329.0 L320.6 327.2 L319.3 328.1 L321.5 329.7M323.7 327.9 L324.1 329.9 L325.4 329.6 L327.5 329.2M323.8 328.7 L324.6 331.3 L326.7 332.1 L326.3 332.9M325.8 328.4 L325.6 329.4 L325.2 328.5 L324.3 328.9" fill="none" stroke="#09049b" stroke-width="0.75" stroke-linejoin="round" stroke-linecap="round"/>
<path d="M324.1 327.2 L325.2 325.4 L324.4 323.4 L324.4 324.3 L322.3 324.3M323.8 327.1 L324.9 324.9 L327.0 325.2 L328.5 324.7 L330.4 326.3 L329.9 328.7 L332.4 329.7M323.3 328.6 L322.8 329.3 L320.4 329.5 L319.6 331.1M325.3 328.9 L324.6 327.9 L324.7 326.9 L325.3 326.8 L326.0 326.1" fill="none" stroke="#09049b" stroke-width="0.7" stroke-linejoin="round" stroke-linecap="round"/>
<text x="261.1" y="384.0" font-size="9.8" text-anchor="middle" fill="#1a1a1a" >-40</text>
<text x="293.9" y="395.4" font-size="9.8" text-anchor="middle" fill="#1a1a1a" >0</text>
<text x="327.8" y="406.4" font-size="9.8" text-anchor="middle" fill="#1a1a1a" >40</text>
<text x="394.6" y="362.0" font-size="9.8" text-anchor="middle" fill="#1a1a1a" >40</text>
<text x="375.1" y="379.2" font-size="9.8" text-anchor="middle" fill="#1a1a1a" >0</text>
<text x="355.8" y="401.3" font-size="9.8" text-anchor="middle" fill="#1a1a1a" >-40</text>
<text x="403.7" y="298.1" font-size="9.8" text-anchor="middle" fill="#1a1a1a" >40</text>
<text x="399.5" y="323.8" font-size="9.8" text-anchor="middle" fill="#1a1a1a" >0</text>
<text x="403.4" y="349.8" font-size="9.8" text-anchor="middle" fill="#1a1a1a" >-40</text>
<text transform="translate(284.6 412.6) rotate(17.3)" font-size="11.6" text-anchor="middle" fill="#1a1a1a"><tspan font-style="italic">x</tspan> axis (µm)</text>
<text transform="translate(390.1 394.9) rotate(-46)" font-size="11.6" text-anchor="middle" fill="#1a1a1a"><tspan font-style="italic">y</tspan> axis (µm)</text>
<text transform="translate(426.2 322.0) rotate(-90)" font-size="11.6" text-anchor="middle" fill="#1a1a1a"><tspan font-style="italic">z</tspan> axis (µm)</text>
<text x="322.6" y="255.6" font-size="14.9" text-anchor="middle" fill="#1a1a1a">66-h cell tracks</text>
<polygon points="460.6,369.8 512.6,326.2 511.9,263.3 457.4,303.1" fill="#f6f6f6" stroke="#e3e3e3" stroke-width="0.6"/>
<polygon points="512.6,326.2 596.1,350.5 599.1,285.4 511.9,263.3" fill="#f1f1f1" stroke="#e3e3e3" stroke-width="0.6"/>
<polygon points="460.6,369.8 549.1,398.7 596.1,350.5 512.6,326.2" fill="#f3f3f3" stroke="#e3e3e3" stroke-width="0.6"/>
<line x1="470.0" y1="372.9" x2="521.6" y2="328.8" stroke="#cfcfcf" stroke-width="0.8"/>
<line x1="521.6" y1="328.8" x2="521.2" y2="265.7" stroke="#cfcfcf" stroke-width="0.8"/>
<line x1="466.8" y1="364.6" x2="554.8" y2="392.9" stroke="#cfcfcf" stroke-width="0.8"/>
<line x1="466.8" y1="364.6" x2="464.0" y2="298.3" stroke="#cfcfcf" stroke-width="0.8"/>
<line x1="460.2" y1="362.7" x2="512.5" y2="319.4" stroke="#cfcfcf" stroke-width="0.8"/>
<line x1="512.5" y1="319.4" x2="596.4" y2="343.5" stroke="#cfcfcf" stroke-width="0.8"/>
<line x1="503.7" y1="383.9" x2="553.4" y2="338.0" stroke="#cfcfcf" stroke-width="0.8"/>
<line x1="553.4" y1="338.0" x2="554.4" y2="274.1" stroke="#cfcfcf" stroke-width="0.8"/>
<line x1="487.7" y1="347.1" x2="573.7" y2="373.5" stroke="#cfcfcf" stroke-width="0.8"/>
<line x1="487.7" y1="347.1" x2="485.8" y2="282.3" stroke="#cfcfcf" stroke-width="0.8"/>
<line x1="459.0" y1="337.2" x2="512.3" y2="295.4" stroke="#cfcfcf" stroke-width="0.8"/>
<line x1="512.3" y1="295.4" x2="597.6" y2="318.6" stroke="#cfcfcf" stroke-width="0.8"/>
<line x1="538.7" y1="395.3" x2="586.4" y2="347.6" stroke="#cfcfcf" stroke-width="0.8"/>
<line x1="586.4" y1="347.6" x2="588.9" y2="282.8" stroke="#cfcfcf" stroke-width="0.8"/>
<line x1="507.2" y1="330.7" x2="591.3" y2="355.4" stroke="#cfcfcf" stroke-width="0.8"/>
<line x1="507.2" y1="330.7" x2="506.3" y2="267.4" stroke="#cfcfcf" stroke-width="0.8"/>
<line x1="457.7" y1="310.8" x2="512.0" y2="270.6" stroke="#cfcfcf" stroke-width="0.8"/>
<line x1="512.0" y1="270.6" x2="598.8" y2="293.0" stroke="#cfcfcf" stroke-width="0.8"/>
<line x1="460.6" y1="369.8" x2="549.1" y2="398.7" stroke="#3a3a3a" stroke-width="0.8"/>
<line x1="549.1" y1="398.7" x2="596.1" y2="350.5" stroke="#3a3a3a" stroke-width="0.8"/>
<line x1="596.1" y1="350.5" x2="599.1" y2="285.4" stroke="#3a3a3a" stroke-width="0.8"/>
<line x1="470.8" y1="372.2" x2="468.1" y2="374.7" stroke="#3a3a3a" stroke-width="0.8"/>
<line x1="553.8" y1="392.6" x2="557.3" y2="393.7" stroke="#3a3a3a" stroke-width="0.8"/>
<line x1="595.4" y1="343.2" x2="598.9" y2="344.2" stroke="#3a3a3a" stroke-width="0.8"/>
<line x1="504.4" y1="383.2" x2="501.8" y2="385.7" stroke="#3a3a3a" stroke-width="0.8"/>
<line x1="572.7" y1="373.2" x2="576.1" y2="374.3" stroke="#3a3a3a" stroke-width="0.8"/>
<line x1="596.6" y1="318.3" x2="600.1" y2="319.4" stroke="#3a3a3a" stroke-width="0.8"/>
<line x1="539.5" y1="394.6" x2="536.8" y2="397.1" stroke="#3a3a3a" stroke-width="0.8"/>
<line x1="590.3" y1="355.1" x2="593.8" y2="356.2" stroke="#3a3a3a" stroke-width="0.8"/>
<line x1="597.8" y1="292.6" x2="601.2" y2="293.7" stroke="#3a3a3a" stroke-width="0.8"/>
<path d="M520.7 322.8 L519.9 323.2M531.8 316.2 L531.2 315.3 L531.9 315.7M515.1 327.3 L514.1 325.9M519.7 335.9 L517.8 335.3M520.2 333.0 L518.8 333.0M536.1 337.4 L537.3 337.4 L538.7 338.8M533.2 337.6 L535.4 337.3 L536.5 337.7M528.4 340.5 L527.0 340.1M522.5 319.3 L523.2 317.5M523.5 334.2 L525.5 335.7" fill="none" stroke="#dd5e86" stroke-width="1.0" stroke-linejoin="round" stroke-linecap="round"/>
<path d="M520.1 318.1 L519.5 319.3 L518.5 319.6 L517.4 318.4 L515.3 319.1M534.5 326.3 L532.9 327.4 L534.2 328.3 L535.6 329.9 L534.0 329.3M512.8 317.0 L514.8 319.0 L513.4 321.1 L512.0 322.2 L514.8 321.5M523.4 332.7 L523.8 333.5 L521.9 335.7 L521.2 334.6 L522.0 332.2M522.3 327.0 L522.6 326.1 L521.3 326.3 L521.1 325.4 L522.1 325.0M535.7 338.3 L537.1 336.6 L534.3 335.6 L531.5 335.9 L534.0 336.7M528.9 330.9 L527.8 330.5 L524.6 330.1 L525.4 328.0 L524.6 325.5" fill="none" stroke="#dd5e86" stroke-width="0.75" stroke-linejoin="round" stroke-linecap="round"/>
<path d="M519.9 323.2 L519.0 321.7 L517.4 321.6 L517.4 320.0 L516.6 318.8M531.9 315.7 L532.3 315.2 L533.7 314.7 L534.0 313.7 L535.5 312.1M542.6 327.9 L542.5 328.5 L544.9 327.4 L545.9 326.4 L547.7 325.7M514.1 325.9 L513.0 326.4 L511.6 327.1 L509.6 327.1M517.8 335.3 L516.6 337.0 L515.8 336.5 L514.4 337.2 L513.5 337.3 L512.1 337.0M518.8 333.0 L517.7 334.5 L516.2 334.1 L514.9 334.8M538.7 338.8 L539.3 340.1 L540.0 340.7 L541.0 342.0 L541.7 341.9 L542.6 341.6M529.1 338.8 L527.8 339.9 L527.9 340.4 L526.6 341.8M536.5 337.7 L537.4 339.8 L538.9 339.9 L539.8 340.6 L540.1 341.2M527.0 340.1 L527.7 341.2 L528.5 343.5 L527.3 343.7 L527.8 345.8M523.2 317.5 L520.2 316.7 L518.5 317.3M525.5 335.7 L523.3 336.2 L523.5 338.2" fill="none" stroke="#d11433" stroke-width="1.0" stroke-linejoin="round" stroke-linecap="round"/>
<path d="M515.3 319.1 L516.0 319.7 L515.6 322.2 L518.5 322.4 L520.0 323.6M534.0 329.3 L533.1 328.8 L534.1 329.3 L535.9 329.4 L536.4 327.7M514.8 321.5 L514.6 319.2 L512.6 316.8 L514.3 317.2 L515.9 318.1M522.0 332.2 L521.7 331.4 L520.2 330.7 L521.2 331.6 L524.2 332.6M522.1 325.0 L522.7 323.7 L523.4 322.5 L522.2 321.9 L521.7 322.5M534.0 336.7 L535.9 337.7 L535.0 336.9 L535.7 335.6 L533.5 336.0M524.6 325.5 L528.1 325.8 L530.8 323.6 L531.7 323.0 L530.6 322.9" fill="none" stroke="#d11433" stroke-width="0.75" stroke-linejoin="round" stroke-linecap="round"/>
<path d="M516.6 318.8 L513.9 318.1 L514.0 318.6 L513.6 315.5 L513.1 314.3 L515.2 313.1M535.5 312.1 L536.1 310.6 L537.7 311.5 L538.6 310.8 L539.2 309.8 L537.3 309.4 L536.2 308.5 L534.0 307.8M547.7 325.7 L548.9 327.5 L549.9 329.5 L552.3 329.0 L553.0 328.3 L554.1 328.1M509.6 327.1 L508.3 328.0 L507.2 328.9 L506.1 328.9 L504.2 328.4 L502.9 327.4 L502.1 327.3 L502.1 325.7M512.1 337.0 L511.6 337.2 L509.3 340.0 L508.8 340.9 L507.3 339.5 L505.7 339.6 L504.9 339.3M514.9 334.8 L513.6 333.8 L513.0 333.4 L511.1 332.0 L510.6 331.0 L510.0 330.9 L507.7 331.5 L506.5 331.6M542.6 341.6 L543.3 342.7 L546.4 342.2 L547.4 342.6 L547.5 343.2 L549.7 343.6 L550.5 343.6M526.6 341.8 L526.2 343.4 L526.2 343.8 L525.7 345.5 L525.8 347.2 L525.7 348.6 L525.8 350.6 L523.8 350.2M540.1 341.2 L540.6 343.6 L540.1 344.9 L540.5 346.4 L537.1 348.4 L538.9 349.2M527.8 345.8 L526.5 346.1 L527.7 348.7 L527.0 348.4 L527.3 349.4 L528.0 350.1 L527.9 349.0 L527.3 347.8M518.5 317.3 L517.5 316.2 L515.9 316.8 L514.5 315.0 L513.3 314.8 L512.8 317.0 L512.5 317.3M523.5 338.2 L523.6 339.5 L522.9 340.2 L521.1 342.4 L519.8 341.8 L518.5 342.4" fill="none" stroke="#ba0c29" stroke-width="1.0" stroke-linejoin="round" stroke-linecap="round"/>
<path d="M520.0 323.6 L521.6 323.4 L518.7 323.8 L518.8 325.7 L520.4 326.1 L523.5 325.9M536.4 327.7 L537.0 327.1 L536.6 326.2 L538.9 324.8 L537.2 323.0 L537.0 321.7M515.9 318.1 L517.0 318.9 L519.3 319.3 L517.9 318.8 L517.1 320.4 L516.6 321.7M524.2 332.6 L526.1 334.6 L527.7 333.7 L528.5 332.7 L530.6 332.4 L529.2 330.5M521.7 322.5 L521.3 321.7 L518.8 321.9 L519.4 323.6 L520.5 321.9 L519.4 321.7M533.5 336.0 L535.7 337.8 L536.2 338.7 L533.8 337.8 L531.1 338.7 L529.8 337.0M530.6 322.9 L527.2 324.1 L525.4 326.8 L524.0 325.6 L524.1 324.0 L525.1 325.1" fill="none" stroke="#ba0c29" stroke-width="0.75" stroke-linejoin="round" stroke-linecap="round"/>
<path d="M522.2 323.6 L520.7 322.8M530.1 318.6 L531.8 316.2M540.8 329.5 L542.6 327.9M516.8 326.3 L515.1 327.3M521.2 334.9 L519.7 335.9M521.5 333.1 L520.2 333.0M535.0 336.9 L536.1 337.4M524.4 336.5 L529.1 338.8M534.4 334.4 L533.2 337.6M529.0 337.6 L528.4 340.5M522.5 321.1 L522.5 319.3" fill="none" stroke="#a563c2" stroke-width="1.0" stroke-linejoin="round" stroke-linecap="round"/>
<path d="M523.5 319.9 L523.8 319.1 L522.1 317.3 L519.3 317.1 L520.1 318.1M534.4 329.4 L534.6 330.3 L533.6 329.5 L535.4 327.6 L534.5 326.3M515.4 322.4 L515.0 319.8 L514.3 317.7 L514.8 315.8 L512.8 317.0M525.3 330.5 L528.6 331.8 L526.8 329.1 L525.6 330.1 L523.4 332.7M524.2 330.5 L524.1 328.5 L524.4 327.5 L523.5 328.9 L522.3 327.0M534.3 332.6 L537.1 333.1 L536.1 334.5 L536.9 337.1 L535.7 338.3M531.8 334.3 L531.5 331.0 L530.1 329.9 L530.0 331.6 L528.9 330.9" fill="none" stroke="#a563c2" stroke-width="0.75" stroke-linejoin="round" stroke-linecap="round"/>
<path d="M548.6 314.6 L550.9 316.1 L551.7 314.9 L552.6 314.9M559.3 326.0 L560.3 324.0 L562.5 322.5 L562.9 322.7M544.6 312.3 L547.5 314.0 L548.4 311.7M550.5 332.8 L550.4 333.9 L552.5 333.3M537.0 344.0 L538.2 344.5 L538.1 346.0M520.2 341.9 L518.6 343.1 L517.6 343.9M527.7 332.2 L526.4 329.5 L527.2 330.3M526.2 331.7 L528.0 332.6" fill="none" stroke="#a563c2" stroke-width="0.7" stroke-linejoin="round" stroke-linecap="round"/>
<path d="M515.2 313.1 L512.5 313.3 L513.2 311.3 L512.5 309.3 L514.3 308.6 L516.6 308.8 L516.8 307.8 L515.5 307.5 L514.7 307.2 L514.1 307.3 L514.9 308.9M534.0 307.8 L535.1 308.1 L534.7 307.0 L535.1 307.3 L535.7 307.8M554.1 328.1 L555.5 330.6 L557.6 329.1 L557.6 328.2 L558.4 328.7 L561.1 329.8 L561.8 329.8 L563.2 328.6 L563.8 326.7 L564.4 327.8 L566.2 326.5 L566.9 325.2 L568.3 324.4 L567.7 322.6 L568.8 321.7 L570.0 320.4 L570.9 323.1 L570.7 325.3 L572.0 324.4 L574.1 324.9 L575.4 325.7 L574.5 327.7 L575.6 328.6 L577.7 327.6 L578.5 328.3 L580.0 330.8 L581.4 330.2 L580.7 333.0 L581.7 333.6 L582.1 335.3 L583.8 334.0 L587.0 334.7 L587.1 336.9 L586.5 337.2 L588.8 337.1 L587.3 338.0 L585.9 337.7M502.1 325.7 L499.8 326.0 L499.9 323.5 L497.9 322.4 L496.9 323.5 L496.7 321.6 L493.9 322.9 L492.4 322.7 L492.8 322.3 L490.8 322.4 L489.6 323.9 L490.3 325.9 L488.1 326.4 L487.8 327.3 L486.6 326.7 L484.8 326.4 L483.9 325.1 L483.6 324.8 L483.8 325.6 L483.2 326.9M504.9 339.3 L504.5 341.4 L503.9 342.0 L501.5 342.0 L499.9 341.4 L498.7 342.9 L496.9 343.3 L497.1 343.4 L497.9 346.6 L498.2 346.7 L500.7 347.6 L501.3 346.5 L502.3 346.7 L503.7 346.0 L502.7 345.6 L502.2 344.2 L500.8 344.4M506.5 331.6 L504.8 330.9 L506.0 328.4 L503.0 328.3 L502.4 328.1 L501.4 327.6 L501.7 327.8 L500.1 328.6 L497.5 329.0M550.5 343.6 L551.7 344.8 L553.5 345.1 L554.9 343.0 L555.8 344.1 L557.0 343.4 L556.5 343.9 L556.3 344.2 L556.9 343.3 L558.6 343.7M523.8 350.2 L522.4 351.0 L522.1 351.1 L519.5 351.0 L518.6 351.4 L518.2 352.7 L519.4 354.2 L519.5 356.4 L521.2 357.1 L519.8 358.2 L518.8 359.5 L517.2 359.7 L516.5 361.5 L517.4 362.2 L517.9 364.8 L518.4 366.0 L517.4 367.4 L516.8 368.0 L515.8 369.4 L514.9 371.0 L512.7 371.5 L513.3 372.1 L514.3 374.1 L514.5 375.7 L516.6 376.1 L514.3 377.2 L513.1 379.4 L513.1 380.1 L513.3 380.4 L513.8 381.0 L512.9 380.7 L512.9 382.3 L512.4 383.2M538.9 349.2 L540.4 350.9 L540.5 351.0 L540.0 351.2 L538.3 351.8 L540.4 351.2 L542.7 351.5M527.3 347.8 L525.4 346.5M512.5 317.3 L512.1 314.6 L511.7 314.3 L510.6 314.1 L511.0 312.0 L511.9 311.5 L510.2 310.4 L509.0 311.4 L508.0 312.9M518.5 342.4 L516.4 340.1 L515.7 341.7 L514.3 342.0 L512.7 342.7 L512.6 342.5 L511.3 343.2 L512.1 343.5 L510.2 341.9 L509.8 342.6" fill="none" stroke="#a4041f" stroke-width="1.0" stroke-linejoin="round" stroke-linecap="round"/>
<path d="M523.5 325.9 L521.4 327.1 L520.5 325.4 L521.4 325.6 L523.3 323.4M537.0 321.7 L535.9 321.2 L537.0 319.3 L535.5 319.2 L533.1 318.1M516.6 321.7 L518.8 319.3 L518.7 318.4 L520.5 320.1 L517.6 318.8M529.2 330.5 L528.4 329.9 L531.4 329.2 L534.4 330.7 L531.2 331.6M519.4 321.7 L517.1 321.6 L515.1 321.3 L517.3 320.1 L520.0 320.6M529.8 337.0 L530.6 338.2 L528.5 339.3 L527.3 339.8 L524.2 338.7M525.1 325.1 L525.3 326.4 L527.1 327.4 L523.5 327.3 L524.2 328.3" fill="none" stroke="#a4041f" stroke-width="0.75" stroke-linejoin="round" stroke-linecap="round"/>
<path d="M523.8 322.8 L522.2 323.6M531.9 318.8 L530.1 318.6M518.7 326.4 L518.1 326.0 L516.8 326.3M521.5 331.9 L520.7 332.2 L521.2 334.9M521.9 332.3 L521.5 333.1M534.2 335.4 L535.0 336.9M532.7 334.1 L534.2 334.3 L534.4 334.4M525.2 336.3 L529.0 337.6M522.2 322.7 L522.5 321.1" fill="none" stroke="#5b40d9" stroke-width="1.0" stroke-linejoin="round" stroke-linecap="round"/>
<path d="M520.6 319.0 L521.7 320.3 L521.9 321.0 L523.9 320.8 L523.5 319.9M531.5 330.2 L531.7 331.4 L531.4 330.5 L532.2 330.7 L534.4 329.4M515.4 323.2 L518.7 324.3 L517.6 324.9 L514.3 325.2 L515.4 322.4M527.3 328.1 L527.3 330.4 L524.9 330.6 L524.0 331.0 L525.3 330.5M525.6 329.9 L524.5 329.7 L523.9 330.8 L523.4 329.3 L524.2 330.5M530.7 331.3 L530.6 329.8 L533.6 329.1 L532.4 331.4 L534.3 332.6M534.6 334.5 L536.3 332.6 L536.4 333.6 L533.8 335.5 L531.8 334.3" fill="none" stroke="#5b40d9" stroke-width="0.75" stroke-linejoin="round" stroke-linecap="round"/>
<path d="M543.3 320.0 L544.7 318.9 L545.9 320.5 L546.7 318.9 L547.8 315.4 L548.6 314.6M549.6 322.1 L551.2 323.4 L552.4 323.8 L553.7 322.8 L554.8 324.2 L556.8 322.4 L558.2 323.6 L559.3 326.0M539.7 316.3 L541.1 314.4 L541.0 311.9 L542.2 310.7 L544.1 311.8 L544.6 312.3M544.7 330.6 L545.6 328.9 L546.8 330.4 L548.6 331.1 L549.6 332.8 L550.5 332.8M535.6 338.4 L537.2 339.6 L535.5 340.4 L537.0 342.3 L537.0 344.0M521.5 336.4 L520.6 338.5 L519.1 338.2 L518.7 339.7 L520.2 341.9M527.1 324.6 L525.3 325.5 L524.5 324.8 L526.8 325.9M531.2 329.1 L529.5 329.3 L527.4 330.4 L525.3 332.2 L527.7 332.2M530.8 328.0 L529.7 328.1 L528.8 328.0 L527.0 329.1 L526.2 331.7" fill="none" stroke="#5b40d9" stroke-width="0.7" stroke-linejoin="round" stroke-linecap="round"/>
<path d="M525.0 324.6 L523.8 322.8M531.3 320.8 L530.2 320.0 L531.9 318.8M536.7 328.0 L538.5 328.3 L539.9 328.1 L540.8 329.5M521.9 324.9 L521.0 326.4 L518.7 326.4M525.1 330.9 L523.2 332.4 L521.5 331.9M523.4 332.6 L521.9 332.3M533.2 333.4 L533.8 334.3 L534.2 335.4M527.3 334.4 L526.6 336.3 L524.4 336.5M530.5 332.8 L532.7 334.1M527.9 335.3 L525.2 336.3M522.7 324.9 L522.2 322.7M523.6 332.0 L523.5 334.2" fill="none" stroke="#1914d8" stroke-width="1.0" stroke-linejoin="round" stroke-linecap="round"/>
<path d="M524.5 322.4 L523.4 321.9 L522.7 319.3 L522.4 318.3 L520.6 319.0M526.1 327.6 L528.7 328.5 L528.7 330.0 L530.4 328.6 L531.5 330.2M521.7 320.2 L519.2 321.0 L518.3 322.0 L517.0 322.3 L515.4 323.2M529.5 324.2 L528.7 325.8 L525.6 326.3 L526.6 326.1 L527.3 328.1M526.4 324.9 L525.5 326.9 L525.5 328.7 L525.1 330.5 L525.6 329.9M527.7 333.4 L528.5 330.7 L529.9 332.2 L528.0 333.0 L530.7 331.3M540.6 331.5 L540.2 333.1 L539.2 334.7 L535.4 333.7 L534.6 334.5" fill="none" stroke="#1914d8" stroke-width="0.75" stroke-linejoin="round" stroke-linecap="round"/>
<path d="M537.7 323.4 L538.6 320.8 L540.6 321.7 L541.1 321.6 L542.0 320.0 L543.3 320.0M540.2 324.2 L542.0 322.4 L543.3 321.9 L544.3 323.0 L546.7 324.0 L547.4 324.1 L548.1 323.3 L549.6 322.1M534.2 318.9 L535.8 318.8 L536.9 317.8 L538.5 318.1 L538.8 317.8 L539.7 316.3M538.5 331.0 L538.3 329.5 L540.7 329.8 L542.5 330.1 L543.7 330.1 L544.7 330.6M533.6 334.2 L533.8 336.0 L534.7 337.9 L535.6 338.4M523.3 333.1 L521.2 334.0 L521.1 336.0 L521.5 336.4M523.5 319.0 L525.0 321.2 L526.3 320.5 L525.7 322.8 L526.0 324.7 L527.1 324.6M530.0 324.5 L530.0 326.2 L529.2 326.7 L530.0 326.8 L531.2 329.1M526.2 327.7 L528.2 329.3 L529.8 330.3 L530.9 329.4 L530.8 328.0M536.3 321.1 L536.7 318.5 L536.9 317.8 L537.0 316.8 L534.4 316.8 L533.9 315.8" fill="none" stroke="#1914d8" stroke-width="0.7" stroke-linejoin="round" stroke-linecap="round"/>
<path d="M525.3 328.3 L525.0 325.8 L525.0 324.6M530.4 324.1 L531.8 323.2 L531.3 320.8M533.7 328.9 L535.2 329.6 L536.7 328.0M524.6 324.9 L522.8 326.2 L521.9 324.9M526.5 330.1 L526.4 330.3 L525.1 330.9M523.6 327.4 L524.0 327.8 L523.4 332.6M532.5 329.4 L531.8 330.9 L531.8 332.0 L533.2 333.4M528.3 331.6 L529.6 333.7 L527.3 334.4M530.8 330.3 L531.7 331.7 L530.5 332.8M528.2 332.0 L528.5 332.4 L528.3 333.9 L527.9 335.3M525.8 325.0 L524.9 324.1 L522.7 324.9M529.0 332.6 L526.8 332.8 L523.6 332.0" fill="none" stroke="#110cba" stroke-width="1.0" stroke-linejoin="round" stroke-linecap="round"/>
<path d="M528.0 327.4 L526.6 325.4 L525.8 324.9 L524.9 323.1 L524.5 322.4M523.6 328.8 L523.6 327.4 L524.4 327.4 L525.0 328.6 L526.1 327.6M530.7 324.5 L528.6 324.5 L525.5 323.5 L525.2 320.4 L521.7 320.2M532.3 325.3 L530.8 326.4 L531.0 325.0 L532.5 322.7 L529.5 324.2M532.3 326.3 L531.0 325.4 L528.6 324.9 L527.1 325.6 L526.4 324.9M528.2 332.7 L526.9 335.3 L529.5 336.1 L530.4 333.5 L527.7 333.4M536.7 329.3 L538.2 329.4 L539.6 329.9 L541.2 330.5 L540.6 331.5" fill="none" stroke="#110cba" stroke-width="0.75" stroke-linejoin="round" stroke-linecap="round"/>
<path d="M532.2 326.6 L534.3 325.9 L533.6 323.5 L535.5 322.6 L536.6 322.8 L537.7 323.4M534.3 327.2 L535.2 328.0 L537.0 326.3 L537.8 325.1 L538.1 322.4 L539.3 322.5 L540.2 324.2M532.9 327.3 L533.5 325.6 L533.7 323.9 L532.3 321.8 L535.2 322.5 L534.2 318.9M533.3 330.0 L534.3 329.2 L536.5 329.9 L536.5 331.2 L538.5 331.0M530.6 329.5 L533.0 330.2 L533.5 331.0 L533.0 334.7 L533.6 334.2M525.3 328.4 L525.3 330.6 L524.8 330.8 L525.0 333.5 L523.3 333.1M527.6 321.4 L525.5 320.0 L524.1 319.4 L525.2 320.9 L524.5 320.8 L523.5 319.0M533.7 323.7 L531.9 323.6 L529.4 322.2 L531.4 323.1 L530.0 324.5M523.8 325.7 L523.0 326.5 L523.5 326.9 L524.1 328.4 L525.3 327.4 L526.2 327.7M526.0 324.5 L527.5 325.7 L528.7 323.6 L531.0 322.6 L532.0 322.1 L532.7 322.8 L534.4 322.2 L536.3 321.1" fill="none" stroke="#110cba" stroke-width="0.7" stroke-linejoin="round" stroke-linecap="round"/>
<path d="M529.0 328.0 L527.1 328.8 L525.3 328.3M529.0 328.0 L530.4 327.0 L529.8 325.6 L530.4 324.1M529.0 328.0 L530.5 327.5 L532.1 327.9 L532.8 328.2 L533.7 328.9M529.0 328.0 L527.4 327.2 L525.8 326.9 L525.6 326.9 L524.6 324.9M529.0 328.0 L528.3 328.8 L526.5 330.1M529.0 328.0 L527.7 328.6 L526.2 328.3 L523.6 327.4M529.0 328.0 L530.2 328.6 L532.5 329.4M529.0 328.0 L527.8 329.5 L528.6 330.8 L528.3 331.6M529.0 328.0 L529.7 329.5 L530.8 330.3M529.0 328.0 L528.9 328.4 L528.7 330.1 L528.2 332.0M529.0 328.0 L527.9 326.7 L527.3 326.2 L525.8 325.0M529.0 328.0 L529.4 329.7 L528.6 330.6 L529.0 332.6" fill="none" stroke="#09049b" stroke-width="1.0" stroke-linejoin="round" stroke-linecap="round"/>
<path d="M529.8 328.1 L529.4 326.5 L527.7 326.1 L528.0 327.4M529.4 327.4 L527.0 328.0 L526.2 327.9 L523.6 328.8M528.6 328.0 L529.8 325.3 L532.2 324.5 L530.7 324.5M528.8 328.8 L529.6 326.0 L530.5 325.4 L532.3 325.3M529.3 329.2 L532.0 329.6 L531.1 328.5 L532.3 326.3M529.6 328.5 L530.3 328.0 L528.9 330.4 L528.2 332.7M528.1 327.0 L531.6 328.3 L533.6 329.0 L536.7 329.3" fill="none" stroke="#09049b" stroke-width="0.75" stroke-linejoin="round" stroke-linecap="round"/>
<path d="M529.0 328.0 L530.3 327.0 L531.2 326.5 L532.2 326.6M529.0 328.0 L530.0 327.6 L531.6 328.1 L532.9 327.1 L534.3 327.2M529.0 328.0 L530.2 328.0 L532.3 327.8 L532.9 327.3M529.0 328.0 L530.2 329.6 L531.9 329.0 L533.3 330.0M529.0 328.0 L530.3 329.8 L530.6 329.5M529.0 328.0 L527.1 328.7 L525.3 328.4M528.9 327.9 L530.4 327.0 L529.3 326.5 L528.9 325.4 L529.5 323.2 L527.6 321.4M528.7 327.8 L530.0 326.9 L531.3 326.3 L531.1 323.9 L533.7 323.7M528.8 327.7 L526.3 329.4 L526.7 328.7 L524.9 326.9 L523.8 325.7M527.4 327.0 L526.7 326.8 L524.9 325.0 L524.3 324.3 L523.9 323.7 L525.1 324.1 L526.0 324.5" fill="none" stroke="#09049b" stroke-width="0.7" stroke-linejoin="round" stroke-linecap="round"/>
<text x="466.6" y="384.0" font-size="9.8" text-anchor="middle" fill="#1a1a1a" >-40</text>
<text x="499.8" y="395.7" font-size="9.8" text-anchor="middle" fill="#1a1a1a" >0</text>
<text x="533.0" y="406.4" font-size="9.8" text-anchor="middle" fill="#1a1a1a" >40</text>
<text x="601.2" y="363.0" font-size="9.8" text-anchor="middle" fill="#1a1a1a" >40</text>
<text x="582.4" y="380.2" font-size="9.8" text-anchor="middle" fill="#1a1a1a" >0</text>
<text x="562.3" y="401.5" font-size="9.8" text-anchor="middle" fill="#1a1a1a" >-40</text>
<text x="609.8" y="298.1" font-size="9.8" text-anchor="middle" fill="#1a1a1a" >40</text>
<text x="606.6" y="323.8" font-size="9.8" text-anchor="middle" fill="#1a1a1a" >0</text>
<text x="609.7" y="349.3" font-size="9.8" text-anchor="middle" fill="#1a1a1a" >-40</text>
<text transform="translate(493.5 413.0) rotate(17.3)" font-size="11.6" text-anchor="middle" fill="#1a1a1a"><tspan font-style="italic">x</tspan> axis (µm)</text>
<text transform="translate(600.2 390.9) rotate(-46)" font-size="11.6" text-anchor="middle" fill="#1a1a1a"><tspan font-style="italic">y</tspan> axis (µm)</text>
<text transform="translate(632.0 322.0) rotate(-90)" font-size="11.6" text-anchor="middle" fill="#1a1a1a"><tspan font-style="italic">z</tspan> axis (µm)</text>
<text x="528.2" y="255.6" font-size="14.9" text-anchor="middle" fill="#1a1a1a">90-h cell tracks</text>
</g>
<g id="plots2d">
<rect x="77" y="19.8" width="237.5" height="175.2" fill="none" stroke="#7a7a7a" stroke-width="1"/>
<line x1="72.4" x2="77" y1="167.4" y2="167.4" stroke="#7a7a7a" stroke-width="1"/>
<text x="67" y="172.4" font-size="14" text-anchor="end" fill="#1a1a1a" >2</text>
<line x1="72.4" x2="77" y1="132.7" y2="132.7" stroke="#7a7a7a" stroke-width="1"/>
<text x="67" y="137.7" font-size="14" text-anchor="end" fill="#1a1a1a" >4</text>
<line x1="72.4" x2="77" y1="98" y2="98" stroke="#7a7a7a" stroke-width="1"/>
<text x="67" y="103" font-size="14" text-anchor="end" fill="#1a1a1a" >6</text>
<line x1="72.4" x2="77" y1="63.3" y2="63.3" stroke="#7a7a7a" stroke-width="1"/>
<text x="67" y="68.3" font-size="14" text-anchor="end" fill="#1a1a1a" >8</text>
<line x1="72.4" x2="77" y1="28.6" y2="28.6" stroke="#7a7a7a" stroke-width="1"/>
<text x="67" y="33.6" font-size="14" text-anchor="end" fill="#1a1a1a" >10</text>
<line x1="116.5" x2="116.5" y1="195" y2="199.4" stroke="#7a7a7a" stroke-width="1"/>
<text x="116.75" y="217.8" font-size="14" text-anchor="middle" fill="#1a1a1a" letter-spacing="0.5">42 h</text>
<line x1="195.7" x2="195.7" y1="195" y2="199.4" stroke="#7a7a7a" stroke-width="1"/>
<text x="195.95" y="217.8" font-size="14" text-anchor="middle" fill="#1a1a1a" letter-spacing="0.5">66 h</text>
<line x1="275" x2="275" y1="195" y2="199.4" stroke="#7a7a7a" stroke-width="1"/>
<text x="275.25" y="217.8" font-size="14" text-anchor="middle" fill="#1a1a1a" letter-spacing="0.5">90 h</text>
<text transform="translate(42.3 105.5) rotate(-90)" font-size="17" letter-spacing="-0.03" text-anchor="middle" fill="#1a1a1a">Major/minor axis</text>
<path d="M116.5 86.7 L116.5 87.7 L116.5 88.7 L116.5 89.7 L116.5 90.7 L116.5 91.7 L116.5 92.7 L116.5 93.7 L116.5 94.7 L116.5 95.7 L116.5 96.7 L116.5 97.7 L116.5 98.7 L116.5 99.7 L116.5 100.7 L116.5 101.7 L116.5 102.7 L116.5 103.7 L116.5 104.7 L116.5 105.7 L116.5 106.7 L116.5 107.7 L116.5 108.7 L116.5 109.7 L116.5 110.7 L116.5 111.7 L116.5 112.7 L116.5 113.7 L116.5 114.7 L116.5 115.7 L116.5 116.7 L116.5 117.7 L116.5 118.7 L116.5 119.7 L116.5 120.7 L116.5 121.7 L116.5 122.7 L116.5 123.7 L116.5 124.7 L116.5 125.7 L116.5 126.7 L116.5 127.7 L116.5 128.7 L116.5 129.7 L116.5 130.7 L116.5 131.7 L116.5 132.7 L116.5 133.7 L116.4 134.7 L116.2 135.7 L116.0 136.7 L115.7 137.7 L115.4 138.7 L115.1 139.7 L114.7 140.7 L114.2 141.7 L113.8 142.7 L113.3 143.7 L112.7 144.7 L112.2 145.7 L111.6 146.7 L111.0 147.7 L110.3 148.7 L109.7 149.7 L109.0 150.7 L108.2 151.7 L107.4 152.7 L106.6 153.7 L105.8 154.7 L104.9 155.7 L103.9 156.7 L102.9 157.7 L101.8 158.7 L100.6 159.7 L99.3 160.7 L97.6 161.7 L95.7 162.7 L93.7 163.7 L92.0 164.7 L90.5 165.7 L89.1 166.7 L87.9 167.7 L86.9 168.7 L86.0 169.7 L85.2 170.7 L84.6 171.7 L84.5 172.7 L84.7 173.7 L85.2 174.7 L85.9 175.7 L87.7 176.7 L90.2 177.7 L92.8 178.7 L95.8 179.7 L99.0 180.7 L102.6 181.7 L106.3 182.7 L110.3 183.7 L113.5 184.7 L115.2 185.7 L116.3 186.7 L116.5 187.2 L116.5 187.2 L116.7 186.7 L117.8 185.7 L119.5 184.7 L122.7 183.7 L126.7 182.7 L130.4 181.7 L134.0 180.7 L137.2 179.7 L140.2 178.7 L142.8 177.7 L145.3 176.7 L147.1 175.7 L147.8 174.7 L148.3 173.7 L148.5 172.7 L148.4 171.7 L147.8 170.7 L147.0 169.7 L146.1 168.7 L145.1 167.7 L143.9 166.7 L142.5 165.7 L141.0 164.7 L139.3 163.7 L137.3 162.7 L135.4 161.7 L133.7 160.7 L132.4 159.7 L131.2 158.7 L130.1 157.7 L129.1 156.7 L128.1 155.7 L127.2 154.7 L126.4 153.7 L125.6 152.7 L124.8 151.7 L124.0 150.7 L123.3 149.7 L122.7 148.7 L122.0 147.7 L121.4 146.7 L120.8 145.7 L120.3 144.7 L119.7 143.7 L119.2 142.7 L118.8 141.7 L118.3 140.7 L117.9 139.7 L117.6 138.7 L117.3 137.7 L117.0 136.7 L116.8 135.7 L116.6 134.7 L116.5 133.7 L116.5 132.7 L116.5 131.7 L116.5 130.7 L116.5 129.7 L116.5 128.7 L116.5 127.7 L116.5 126.7 L116.5 125.7 L116.5 124.7 L116.5 123.7 L116.5 122.7 L116.5 121.7 L116.5 120.7 L116.5 119.7 L116.5 118.7 L116.5 117.7 L116.5 116.7 L116.5 115.7 L116.5 114.7 L116.5 113.7 L116.5 112.7 L116.5 111.7 L116.5 110.7 L116.5 109.7 L116.5 108.7 L116.5 107.7 L116.5 106.7 L116.5 105.7 L116.5 104.7 L116.5 103.7 L116.5 102.7 L116.5 101.7 L116.5 100.7 L116.5 99.7 L116.5 98.7 L116.5 97.7 L116.5 96.7 L116.5 95.7 L116.5 94.7 L116.5 93.7 L116.5 92.7 L116.5 91.7 L116.5 90.7 L116.5 89.7 L116.5 88.7 L116.5 87.7 L116.5 86.7Z" fill="#B41B55" stroke="#5c4e53" stroke-width="0.65" stroke-linejoin="round"/>
<line x1="95.66" x2="137.34" y1="163" y2="163" stroke="#2b2b2b" stroke-opacity="0.17" stroke-width="0.8" stroke-dasharray="1.4 1.6"/>
<line x1="85.69" x2="147.31" y1="170.8" y2="170.8" stroke="#2b2b2b" stroke-opacity="0.17" stroke-width="0.8" stroke-dasharray="4 2.4"/>
<line x1="86.47" x2="146.53" y1="175.7" y2="175.7" stroke="#2b2b2b" stroke-opacity="0.17" stroke-width="0.8" stroke-dasharray="1.4 1.6"/>
<path d="M195.7 28.6 L195.7 29.6 L195.7 30.6 L195.7 31.6 L195.7 32.6 L195.7 33.6 L195.7 34.6 L195.7 35.6 L195.7 36.6 L195.7 37.6 L195.7 38.6 L195.7 39.6 L195.7 40.6 L195.7 41.6 L195.7 42.6 L195.7 43.6 L195.7 44.6 L195.7 45.6 L195.7 46.6 L195.7 47.6 L195.7 48.6 L195.7 49.6 L195.7 50.6 L195.7 51.6 L195.7 52.6 L195.7 53.6 L195.7 54.6 L195.7 55.6 L195.7 56.6 L195.7 57.6 L195.7 58.6 L195.7 59.6 L195.7 60.6 L195.7 61.6 L195.7 62.6 L195.7 63.6 L195.7 64.6 L195.7 65.6 L195.7 66.6 L195.7 67.6 L195.7 68.6 L195.7 69.6 L195.7 70.6 L195.7 71.6 L195.7 72.6 L195.7 73.6 L195.7 74.6 L195.7 75.6 L195.7 76.6 L195.7 77.6 L195.7 78.6 L195.7 79.6 L195.7 80.6 L195.7 81.6 L195.7 82.6 L195.7 83.6 L195.7 84.6 L195.7 85.6 L195.7 86.6 L195.7 87.6 L195.7 88.6 L195.7 89.6 L195.7 90.6 L195.7 91.6 L195.7 92.6 L195.7 93.6 L195.7 94.6 L195.7 95.6 L195.7 96.6 L195.7 97.6 L195.7 98.6 L195.7 99.6 L195.7 100.6 L195.7 101.6 L195.7 102.6 L195.7 103.6 L195.7 104.6 L195.7 105.6 L195.7 106.6 L195.7 107.6 L195.7 108.6 L195.7 109.6 L195.7 110.6 L195.7 111.6 L195.7 112.6 L195.7 113.6 L195.7 114.6 L195.7 115.6 L195.7 116.6 L195.7 117.6 L195.7 118.6 L195.7 119.6 L195.7 120.6 L195.7 121.6 L195.7 122.6 L195.7 123.6 L195.7 124.6 L195.7 125.6 L195.7 126.6 L195.7 127.6 L195.5 128.6 L195.4 129.6 L195.2 130.6 L194.9 131.6 L194.6 132.6 L194.4 133.6 L194.1 134.6 L193.8 135.6 L193.4 136.6 L193.0 137.6 L192.5 138.6 L192.0 139.6 L191.4 140.6 L190.9 141.6 L190.2 142.6 L189.6 143.6 L188.9 144.6 L188.1 145.6 L187.4 146.6 L186.5 147.6 L185.7 148.6 L184.8 149.6 L183.9 150.6 L183.0 151.6 L182.0 152.6 L181.0 153.6 L180.0 154.6 L179.1 155.6 L178.2 156.6 L177.2 157.6 L176.3 158.6 L175.5 159.6 L174.6 160.6 L173.7 161.6 L172.8 162.6 L171.9 163.6 L171.3 164.6 L170.7 165.6 L170.2 166.6 L169.9 167.6 L169.9 168.6 L170.2 169.6 L170.7 170.6 L171.4 171.6 L172.6 172.6 L174.1 173.6 L175.8 174.6 L177.6 175.6 L179.7 176.6 L181.9 177.6 L184.0 178.6 L186.3 179.6 L188.5 180.6 L190.5 181.6 L192.3 182.6 L193.7 183.6 L194.6 184.6 L195.1 185.6 L195.5 186.6 L195.7 187.6 L195.7 187.8 L195.7 187.8 L195.7 187.6 L195.9 186.6 L196.3 185.6 L196.8 184.6 L197.7 183.6 L199.1 182.6 L200.9 181.6 L202.9 180.6 L205.1 179.6 L207.4 178.6 L209.5 177.6 L211.7 176.6 L213.8 175.6 L215.6 174.6 L217.3 173.6 L218.8 172.6 L220.0 171.6 L220.7 170.6 L221.2 169.6 L221.5 168.6 L221.5 167.6 L221.2 166.6 L220.7 165.6 L220.1 164.6 L219.5 163.6 L218.6 162.6 L217.7 161.6 L216.8 160.6 L215.9 159.6 L215.1 158.6 L214.2 157.6 L213.2 156.6 L212.3 155.6 L211.4 154.6 L210.4 153.6 L209.4 152.6 L208.4 151.6 L207.5 150.6 L206.6 149.6 L205.7 148.6 L204.9 147.6 L204.0 146.6 L203.3 145.6 L202.5 144.6 L201.8 143.6 L201.2 142.6 L200.5 141.6 L200.0 140.6 L199.4 139.6 L198.9 138.6 L198.4 137.6 L198.0 136.6 L197.6 135.6 L197.3 134.6 L197.0 133.6 L196.8 132.6 L196.5 131.6 L196.2 130.6 L196.0 129.6 L195.9 128.6 L195.7 127.6 L195.7 126.6 L195.7 125.6 L195.7 124.6 L195.7 123.6 L195.7 122.6 L195.7 121.6 L195.7 120.6 L195.7 119.6 L195.7 118.6 L195.7 117.6 L195.7 116.6 L195.7 115.6 L195.7 114.6 L195.7 113.6 L195.7 112.6 L195.7 111.6 L195.7 110.6 L195.7 109.6 L195.7 108.6 L195.7 107.6 L195.7 106.6 L195.7 105.6 L195.7 104.6 L195.7 103.6 L195.7 102.6 L195.7 101.6 L195.7 100.6 L195.7 99.6 L195.7 98.6 L195.7 97.6 L195.7 96.6 L195.7 95.6 L195.7 94.6 L195.7 93.6 L195.7 92.6 L195.7 91.6 L195.7 90.6 L195.7 89.6 L195.7 88.6 L195.7 87.6 L195.7 86.6 L195.7 85.6 L195.7 84.6 L195.7 83.6 L195.7 82.6 L195.7 81.6 L195.7 80.6 L195.7 79.6 L195.7 78.6 L195.7 77.6 L195.7 76.6 L195.7 75.6 L195.7 74.6 L195.7 73.6 L195.7 72.6 L195.7 71.6 L195.7 70.6 L195.7 69.6 L195.7 68.6 L195.7 67.6 L195.7 66.6 L195.7 65.6 L195.7 64.6 L195.7 63.6 L195.7 62.6 L195.7 61.6 L195.7 60.6 L195.7 59.6 L195.7 58.6 L195.7 57.6 L195.7 56.6 L195.7 55.6 L195.7 54.6 L195.7 53.6 L195.7 52.6 L195.7 51.6 L195.7 50.6 L195.7 49.6 L195.7 48.6 L195.7 47.6 L195.7 46.6 L195.7 45.6 L195.7 44.6 L195.7 43.6 L195.7 42.6 L195.7 41.6 L195.7 40.6 L195.7 39.6 L195.7 38.6 L195.7 37.6 L195.7 36.6 L195.7 35.6 L195.7 34.6 L195.7 33.6 L195.7 32.6 L195.7 31.6 L195.7 30.6 L195.7 29.6 L195.7 28.6Z" fill="#2E73C3" stroke="#4e535a" stroke-width="0.65" stroke-linejoin="round"/>
<line x1="177.94" x2="213.46" y1="157.5" y2="157.5" stroke="#2b2b2b" stroke-opacity="0.17" stroke-width="0.8" stroke-dasharray="1.4 1.6"/>
<line x1="171.61" x2="219.79" y1="165.1" y2="165.1" stroke="#2b2b2b" stroke-opacity="0.17" stroke-width="0.8" stroke-dasharray="4 2.4"/>
<line x1="172.09" x2="219.31" y1="171.7" y2="171.7" stroke="#2b2b2b" stroke-opacity="0.17" stroke-width="0.8" stroke-dasharray="1.4 1.6"/>
<path d="M275.0 28.6 L275.0 29.6 L275.0 30.6 L275.0 31.6 L275.0 32.6 L275.0 33.6 L275.0 34.6 L275.0 35.6 L275.0 36.6 L275.0 37.6 L275.0 38.6 L275.0 39.6 L275.0 40.6 L275.0 41.6 L275.0 42.6 L275.0 43.6 L275.0 44.6 L275.0 45.6 L275.0 46.6 L275.0 47.6 L275.0 48.6 L275.0 49.6 L275.0 50.6 L275.0 51.6 L275.0 52.6 L275.0 53.6 L275.0 54.6 L275.0 55.6 L275.0 56.6 L275.0 57.6 L275.0 58.6 L275.0 59.6 L275.0 60.6 L275.0 61.6 L275.0 62.6 L275.0 63.6 L275.0 64.6 L275.0 65.6 L275.0 66.6 L275.0 67.6 L275.0 68.6 L275.0 69.6 L275.0 70.6 L275.0 71.6 L275.0 72.6 L275.0 73.6 L275.0 74.6 L275.0 75.6 L275.0 76.6 L275.0 77.6 L275.0 78.6 L275.0 79.6 L275.0 80.6 L275.0 81.6 L275.0 82.6 L275.0 83.6 L275.0 84.6 L275.0 85.6 L275.0 86.6 L275.0 87.6 L275.0 88.6 L275.0 89.6 L275.0 90.6 L275.0 91.6 L275.0 92.6 L275.0 93.6 L275.0 94.6 L275.0 95.6 L275.0 96.6 L275.0 97.6 L275.0 98.6 L275.0 99.6 L275.0 100.6 L275.0 101.6 L275.0 102.6 L275.0 103.6 L275.0 104.6 L275.0 105.6 L275.0 106.6 L275.0 107.6 L275.0 108.6 L275.0 109.6 L275.0 110.6 L275.0 111.6 L275.0 112.6 L275.0 113.6 L275.0 114.6 L275.0 115.6 L275.0 116.6 L275.0 117.6 L275.0 118.6 L275.0 119.6 L275.0 120.6 L275.0 121.6 L275.0 122.6 L275.0 123.6 L275.0 124.6 L275.0 125.6 L275.0 126.6 L275.0 127.6 L275.0 128.6 L275.0 129.6 L274.7 130.6 L274.5 131.6 L274.3 132.6 L274.0 133.6 L273.7 134.6 L273.2 135.6 L272.8 136.6 L272.4 137.6 L272.0 138.6 L271.5 139.6 L271.1 140.6 L270.6 141.6 L270.1 142.6 L269.5 143.6 L268.9 144.6 L268.2 145.6 L267.5 146.6 L266.7 147.6 L265.8 148.6 L264.9 149.6 L263.9 150.6 L262.9 151.6 L261.9 152.6 L260.9 153.6 L259.9 154.6 L258.9 155.6 L257.9 156.6 L256.9 157.6 L255.8 158.6 L254.8 159.6 L253.8 160.6 L252.9 161.6 L252.0 162.6 L251.1 163.6 L250.3 164.6 L249.8 165.6 L249.5 166.6 L249.2 167.6 L249.2 168.6 L249.6 169.6 L250.2 170.6 L250.9 171.6 L251.7 172.6 L253.0 173.6 L254.5 174.6 L256.2 175.6 L258.1 176.6 L260.3 177.6 L262.6 178.6 L264.9 179.6 L267.3 180.6 L269.5 181.6 L271.8 182.6 L273.3 183.6 L274.0 184.6 L274.6 185.6 L274.9 186.6 L275.0 187.2 L275.0 187.2 L275.1 186.6 L275.4 185.6 L276.0 184.6 L276.7 183.6 L278.2 182.6 L280.5 181.6 L282.7 180.6 L285.1 179.6 L287.4 178.6 L289.7 177.6 L291.9 176.6 L293.8 175.6 L295.5 174.6 L297.0 173.6 L298.3 172.6 L299.1 171.6 L299.8 170.6 L300.4 169.6 L300.8 168.6 L300.8 167.6 L300.5 166.6 L300.2 165.6 L299.7 164.6 L298.9 163.6 L298.0 162.6 L297.1 161.6 L296.2 160.6 L295.2 159.6 L294.2 158.6 L293.1 157.6 L292.1 156.6 L291.1 155.6 L290.1 154.6 L289.1 153.6 L288.1 152.6 L287.1 151.6 L286.1 150.6 L285.1 149.6 L284.2 148.6 L283.3 147.6 L282.5 146.6 L281.8 145.6 L281.1 144.6 L280.5 143.6 L279.9 142.6 L279.4 141.6 L278.9 140.6 L278.5 139.6 L278.0 138.6 L277.6 137.6 L277.2 136.6 L276.8 135.6 L276.3 134.6 L276.0 133.6 L275.7 132.6 L275.5 131.6 L275.3 130.6 L275.0 129.6 L275.0 128.6 L275.0 127.6 L275.0 126.6 L275.0 125.6 L275.0 124.6 L275.0 123.6 L275.0 122.6 L275.0 121.6 L275.0 120.6 L275.0 119.6 L275.0 118.6 L275.0 117.6 L275.0 116.6 L275.0 115.6 L275.0 114.6 L275.0 113.6 L275.0 112.6 L275.0 111.6 L275.0 110.6 L275.0 109.6 L275.0 108.6 L275.0 107.6 L275.0 106.6 L275.0 105.6 L275.0 104.6 L275.0 103.6 L275.0 102.6 L275.0 101.6 L275.0 100.6 L275.0 99.6 L275.0 98.6 L275.0 97.6 L275.0 96.6 L275.0 95.6 L275.0 94.6 L275.0 93.6 L275.0 92.6 L275.0 91.6 L275.0 90.6 L275.0 89.6 L275.0 88.6 L275.0 87.6 L275.0 86.6 L275.0 85.6 L275.0 84.6 L275.0 83.6 L275.0 82.6 L275.0 81.6 L275.0 80.6 L275.0 79.6 L275.0 78.6 L275.0 77.6 L275.0 76.6 L275.0 75.6 L275.0 74.6 L275.0 73.6 L275.0 72.6 L275.0 71.6 L275.0 70.6 L275.0 69.6 L275.0 68.6 L275.0 67.6 L275.0 66.6 L275.0 65.6 L275.0 64.6 L275.0 63.6 L275.0 62.6 L275.0 61.6 L275.0 60.6 L275.0 59.6 L275.0 58.6 L275.0 57.6 L275.0 56.6 L275.0 55.6 L275.0 54.6 L275.0 53.6 L275.0 52.6 L275.0 51.6 L275.0 50.6 L275.0 49.6 L275.0 48.6 L275.0 47.6 L275.0 46.6 L275.0 45.6 L275.0 44.6 L275.0 43.6 L275.0 42.6 L275.0 41.6 L275.0 40.6 L275.0 39.6 L275.0 38.6 L275.0 37.6 L275.0 36.6 L275.0 35.6 L275.0 34.6 L275.0 33.6 L275.0 32.6 L275.0 31.6 L275.0 30.6 L275.0 29.6 L275.0 28.6Z" fill="#94D044" stroke="#545a4e" stroke-width="0.65" stroke-linejoin="round"/>
<line x1="257.49" x2="292.51" y1="157.6" y2="157.6" stroke="#3c5a12" stroke-opacity="0.75" stroke-width="0.9" stroke-dasharray="1.4 1.6"/>
<line x1="250.57" x2="299.43" y1="165.2" y2="165.2" stroke="#3c5a12" stroke-opacity="0.75" stroke-width="0.9" stroke-dasharray="4 2.4"/>
<line x1="251.6" x2="298.4" y1="171.8" y2="171.8" stroke="#3c5a12" stroke-opacity="0.75" stroke-width="0.9" stroke-dasharray="1.4 1.6"/>
<text x="113.2" y="36.8" font-size="14" text-anchor="middle" fill="#1a1a1a" >1.89</text>
<text x="180" y="36.8" font-size="14" text-anchor="middle" fill="#1a1a1a" >2.13</text>
<text x="258" y="36.8" font-size="14" text-anchor="middle" fill="#1a1a1a" >2.14</text>
<text class="pl" transform="translate(6.9 24.8) scale(1.13 1)" font-size="23" font-weight="bold" fill="#000" stroke="#000" stroke-width="1" stroke-linejoin="round">k</text>
<rect x="412" y="17.6" width="228.4" height="176.4" fill="none" stroke="#7a7a7a" stroke-width="1"/>
<line x1="407.4" x2="412" y1="177.4" y2="177.4" stroke="#7a7a7a" stroke-width="1"/>
<text x="402" y="182.4" font-size="14" text-anchor="end" fill="#1a1a1a" >0</text>
<line x1="407.4" x2="412" y1="153.67" y2="153.67" stroke="#7a7a7a" stroke-width="1"/>
<text x="402.4" y="158.67" font-size="14" text-anchor="end" fill="#1a1a1a" letter-spacing="0.4">20</text>
<line x1="407.4" x2="412" y1="129.93" y2="129.93" stroke="#7a7a7a" stroke-width="1"/>
<text x="402.4" y="134.93" font-size="14" text-anchor="end" fill="#1a1a1a" letter-spacing="0.4">40</text>
<line x1="407.4" x2="412" y1="106.2" y2="106.2" stroke="#7a7a7a" stroke-width="1"/>
<text x="402.4" y="111.2" font-size="14" text-anchor="end" fill="#1a1a1a" letter-spacing="0.4">60</text>
<line x1="407.4" x2="412" y1="82.46" y2="82.46" stroke="#7a7a7a" stroke-width="1"/>
<text x="402.4" y="87.46" font-size="14" text-anchor="end" fill="#1a1a1a" letter-spacing="0.4">80</text>
<line x1="407.4" x2="412" y1="58.73" y2="58.73" stroke="#7a7a7a" stroke-width="1"/>
<text x="402.7" y="63.73" font-size="14" text-anchor="end" fill="#1a1a1a" letter-spacing="0.7">100</text>
<line x1="407.4" x2="412" y1="35" y2="35" stroke="#7a7a7a" stroke-width="1"/>
<text x="402" y="40" font-size="14" text-anchor="end" fill="#1a1a1a" >120</text>
<line x1="450" x2="450" y1="194" y2="198.4" stroke="#7a7a7a" stroke-width="1"/>
<text x="450.25" y="217.8" font-size="14" text-anchor="middle" fill="#1a1a1a" letter-spacing="0.5">42 h</text>
<line x1="526" x2="526" y1="194" y2="198.4" stroke="#7a7a7a" stroke-width="1"/>
<text x="526.25" y="217.8" font-size="14" text-anchor="middle" fill="#1a1a1a" letter-spacing="0.5">66 h</text>
<line x1="602" x2="602" y1="194" y2="198.4" stroke="#7a7a7a" stroke-width="1"/>
<text x="602.25" y="217.8" font-size="14" text-anchor="middle" fill="#1a1a1a" letter-spacing="0.5">90 h</text>
<text transform="translate(362.7 105.6) rotate(-90)" font-size="16.5" letter-spacing="0.28" text-anchor="middle" fill="#1a1a1a"><tspan font-style="italic">v</tspan> (µm h<tspan font-size="11" dy="-7.8">−1</tspan><tspan dy="7.8">)</tspan></text>
<path d="M449.9 83.1 L449.9 84.1 L449.9 85.1 L449.9 86.1 L449.9 87.1 L449.9 88.1 L449.9 89.1 L449.9 90.1 L449.9 91.1 L449.9 92.1 L449.9 93.1 L449.9 94.1 L449.9 95.1 L449.9 96.1 L449.9 97.1 L449.9 98.1 L449.9 99.1 L449.9 100.1 L449.9 101.1 L449.8 102.1 L449.7 103.1 L449.6 104.1 L449.5 105.1 L449.4 106.1 L449.4 107.1 L449.3 108.1 L449.3 109.1 L449.2 110.1 L449.1 111.1 L449.0 112.1 L448.9 113.1 L448.8 114.1 L448.7 115.1 L448.6 116.1 L448.5 117.1 L448.4 118.1 L448.3 119.1 L448.2 120.1 L448.1 121.1 L448.1 122.1 L448.0 123.1 L447.9 124.1 L447.8 125.1 L447.6 126.1 L447.5 127.1 L447.2 128.1 L447.0 129.1 L446.8 130.1 L446.5 131.1 L446.3 132.1 L446.1 133.1 L445.9 134.1 L445.6 135.1 L445.3 136.1 L445.0 137.1 L444.5 138.1 L443.7 139.1 L442.7 140.1 L441.8 141.1 L440.9 142.1 L439.9 143.1 L438.9 144.1 L438.0 145.1 L437.1 146.1 L436.3 147.1 L435.5 148.1 L434.7 149.1 L434.0 150.1 L433.4 151.1 L432.9 152.1 L432.3 153.1 L431.8 154.1 L431.4 155.1 L431.0 156.1 L430.5 157.1 L430.1 158.1 L429.8 159.1 L429.5 160.1 L429.5 161.1 L429.7 162.1 L429.9 163.1 L430.2 164.1 L430.6 165.1 L431.4 166.1 L432.1 167.1 L432.4 168.1 L432.0 169.1 L431.0 170.1 L429.5 171.1 L427.0 172.1 L424.5 173.1 L422.0 174.1 L420.0 175.1 L419.6 176.1 L419.5 177.1 L420.5 178.1 L423.1 179.1 L426.7 180.1 L431.4 181.1 L435.7 182.1 L440.0 183.1 L443.5 184.1 L449.9 185.1 L449.9 185.1 L456.3 184.1 L459.8 183.1 L464.1 182.1 L468.4 181.1 L473.1 180.1 L476.7 179.1 L479.3 178.1 L480.3 177.1 L480.2 176.1 L479.8 175.1 L477.8 174.1 L475.3 173.1 L472.8 172.1 L470.3 171.1 L468.8 170.1 L467.8 169.1 L467.4 168.1 L467.7 167.1 L468.4 166.1 L469.2 165.1 L469.6 164.1 L469.9 163.1 L470.1 162.1 L470.3 161.1 L470.3 160.1 L470.0 159.1 L469.7 158.1 L469.3 157.1 L468.8 156.1 L468.4 155.1 L468.0 154.1 L467.5 153.1 L466.9 152.1 L466.4 151.1 L465.8 150.1 L465.1 149.1 L464.3 148.1 L463.5 147.1 L462.7 146.1 L461.8 145.1 L460.9 144.1 L459.9 143.1 L458.9 142.1 L458.0 141.1 L457.1 140.1 L456.1 139.1 L455.3 138.1 L454.8 137.1 L454.5 136.1 L454.2 135.1 L453.9 134.1 L453.7 133.1 L453.5 132.1 L453.3 131.1 L453.0 130.1 L452.8 129.1 L452.6 128.1 L452.3 127.1 L452.2 126.1 L452.0 125.1 L451.9 124.1 L451.8 123.1 L451.7 122.1 L451.7 121.1 L451.6 120.1 L451.5 119.1 L451.4 118.1 L451.3 117.1 L451.2 116.1 L451.1 115.1 L451.0 114.1 L450.9 113.1 L450.8 112.1 L450.7 111.1 L450.6 110.1 L450.5 109.1 L450.5 108.1 L450.4 107.1 L450.4 106.1 L450.3 105.1 L450.2 104.1 L450.1 103.1 L450.0 102.1 L449.9 101.1 L449.9 100.1 L449.9 99.1 L449.9 98.1 L449.9 97.1 L449.9 96.1 L449.9 95.1 L449.9 94.1 L449.9 93.1 L449.9 92.1 L449.9 91.1 L449.9 90.1 L449.9 89.1 L449.9 88.1 L449.9 87.1 L449.9 86.1 L449.9 85.1 L449.9 84.1 L449.9 83.1Z" fill="#B41B55" stroke="#5c4e53" stroke-width="0.65" stroke-linejoin="round"/>
<line x1="433.9" x2="465.9" y1="151.3" y2="151.3" stroke="#2b2b2b" stroke-opacity="0.17" stroke-width="0.8" stroke-dasharray="1.4 1.6"/>
<line x1="430.59" x2="469.21" y1="163.4" y2="163.4" stroke="#2b2b2b" stroke-opacity="0.17" stroke-width="0.8" stroke-dasharray="4 2.4"/>
<line x1="423.33" x2="476.47" y1="173.8" y2="173.8" stroke="#2b2b2b" stroke-opacity="0.17" stroke-width="0.8" stroke-dasharray="1.4 1.6"/>
<path d="M526.0 56.0 L526.0 57.0 L526.0 58.0 L526.0 59.0 L526.0 60.0 L526.0 61.0 L526.0 62.0 L526.0 63.0 L526.0 64.0 L526.0 65.0 L526.0 66.0 L526.0 67.0 L526.0 68.0 L526.0 69.0 L526.0 70.0 L526.0 71.0 L526.0 72.0 L526.0 73.0 L526.0 74.0 L526.0 75.0 L526.0 76.0 L526.0 77.0 L526.0 78.0 L526.0 79.0 L526.0 80.0 L526.0 81.0 L526.0 82.0 L526.0 83.0 L526.0 84.0 L526.0 85.0 L526.0 86.0 L526.0 87.0 L526.0 88.0 L526.0 89.0 L526.0 90.0 L526.0 91.0 L526.0 92.0 L526.0 93.0 L526.0 94.0 L526.0 95.0 L526.0 96.0 L526.0 97.0 L525.9 98.0 L525.8 99.0 L525.6 100.0 L525.5 101.0 L525.3 102.0 L525.2 103.0 L525.1 104.0 L525.0 105.0 L524.9 106.0 L524.9 107.0 L524.8 108.0 L524.8 109.0 L524.8 110.0 L524.7 111.0 L524.6 112.0 L524.5 113.0 L524.4 114.0 L524.2 115.0 L523.9 116.0 L523.6 117.0 L523.4 118.0 L523.2 119.0 L523.0 120.0 L522.7 121.0 L522.5 122.0 L522.2 123.0 L521.9 124.0 L521.6 125.0 L521.2 126.0 L520.9 127.0 L520.4 128.0 L520.0 129.0 L519.6 130.0 L519.3 131.0 L518.9 132.0 L518.5 133.0 L518.1 134.0 L517.7 135.0 L517.3 136.0 L516.8 137.0 L516.4 138.0 L516.0 139.0 L515.5 140.0 L515.0 141.0 L514.5 142.0 L513.9 143.0 L513.3 144.0 L512.6 145.0 L511.8 146.0 L511.1 147.0 L510.5 148.0 L509.9 149.0 L509.3 150.0 L508.7 151.0 L508.2 152.0 L507.9 153.0 L507.6 154.0 L507.4 155.0 L507.2 156.0 L507.0 157.0 L507.0 158.0 L507.2 159.0 L507.5 160.0 L507.8 161.0 L508.2 162.0 L508.7 163.0 L509.2 164.0 L509.7 165.0 L510.0 166.0 L510.4 167.0 L510.6 168.0 L510.7 169.0 L510.1 170.0 L508.8 171.0 L507.5 172.0 L505.7 173.0 L504.4 174.0 L503.7 175.0 L503.2 176.0 L503.2 177.0 L503.9 178.0 L505.0 179.0 L507.1 180.0 L510.2 181.0 L513.1 182.0 L515.8 183.0 L518.5 184.0 L520.7 185.0 L526.0 186.0 L526.0 186.0 L531.3 185.0 L533.5 184.0 L536.2 183.0 L538.9 182.0 L541.8 181.0 L544.9 180.0 L547.0 179.0 L548.1 178.0 L548.8 177.0 L548.8 176.0 L548.3 175.0 L547.6 174.0 L546.3 173.0 L544.5 172.0 L543.2 171.0 L541.9 170.0 L541.3 169.0 L541.4 168.0 L541.6 167.0 L542.0 166.0 L542.3 165.0 L542.8 164.0 L543.3 163.0 L543.8 162.0 L544.2 161.0 L544.5 160.0 L544.8 159.0 L545.0 158.0 L545.0 157.0 L544.8 156.0 L544.6 155.0 L544.4 154.0 L544.1 153.0 L543.8 152.0 L543.3 151.0 L542.7 150.0 L542.1 149.0 L541.5 148.0 L540.9 147.0 L540.2 146.0 L539.4 145.0 L538.7 144.0 L538.1 143.0 L537.5 142.0 L537.0 141.0 L536.5 140.0 L536.0 139.0 L535.6 138.0 L535.2 137.0 L534.7 136.0 L534.3 135.0 L533.9 134.0 L533.5 133.0 L533.1 132.0 L532.7 131.0 L532.4 130.0 L532.0 129.0 L531.6 128.0 L531.1 127.0 L530.8 126.0 L530.4 125.0 L530.1 124.0 L529.8 123.0 L529.5 122.0 L529.3 121.0 L529.0 120.0 L528.8 119.0 L528.6 118.0 L528.4 117.0 L528.1 116.0 L527.8 115.0 L527.6 114.0 L527.5 113.0 L527.4 112.0 L527.3 111.0 L527.2 110.0 L527.2 109.0 L527.2 108.0 L527.1 107.0 L527.1 106.0 L527.0 105.0 L526.9 104.0 L526.8 103.0 L526.7 102.0 L526.5 101.0 L526.4 100.0 L526.2 99.0 L526.1 98.0 L526.0 97.0 L526.0 96.0 L526.0 95.0 L526.0 94.0 L526.0 93.0 L526.0 92.0 L526.0 91.0 L526.0 90.0 L526.0 89.0 L526.0 88.0 L526.0 87.0 L526.0 86.0 L526.0 85.0 L526.0 84.0 L526.0 83.0 L526.0 82.0 L526.0 81.0 L526.0 80.0 L526.0 79.0 L526.0 78.0 L526.0 77.0 L526.0 76.0 L526.0 75.0 L526.0 74.0 L526.0 73.0 L526.0 72.0 L526.0 71.0 L526.0 70.0 L526.0 69.0 L526.0 68.0 L526.0 67.0 L526.0 66.0 L526.0 65.0 L526.0 64.0 L526.0 63.0 L526.0 62.0 L526.0 61.0 L526.0 60.0 L526.0 59.0 L526.0 58.0 L526.0 57.0 L526.0 56.0Z" fill="#2E73C3" stroke="#4e535a" stroke-width="0.65" stroke-linejoin="round"/>
<line x1="512.09" x2="539.91" y1="146.5" y2="146.5" stroke="#2b2b2b" stroke-opacity="0.17" stroke-width="0.8" stroke-dasharray="1.4 1.6"/>
<line x1="508.04" x2="543.96" y1="159.9" y2="159.9" stroke="#2b2b2b" stroke-opacity="0.17" stroke-width="0.8" stroke-dasharray="4 2.4"/>
<line x1="508.8" x2="543.2" y1="171.5" y2="171.5" stroke="#2b2b2b" stroke-opacity="0.17" stroke-width="0.8" stroke-dasharray="1.4 1.6"/>
<path d="M602.1 31.0 L602.1 32.0 L602.1 33.0 L602.1 34.0 L602.1 35.0 L602.1 36.0 L602.1 37.0 L602.1 38.0 L602.1 39.0 L602.1 40.0 L602.1 41.0 L602.1 42.0 L602.1 43.0 L602.1 44.0 L602.1 45.0 L602.1 46.0 L602.1 47.0 L602.1 48.0 L602.1 49.0 L602.1 50.0 L602.1 51.0 L602.1 52.0 L602.1 53.0 L602.1 54.0 L602.1 55.0 L602.1 56.0 L602.1 57.0 L602.1 58.0 L602.1 59.0 L602.1 60.0 L602.1 61.0 L602.1 62.0 L602.1 63.0 L602.1 64.0 L602.1 65.0 L602.1 66.0 L602.1 67.0 L602.1 68.0 L602.1 69.0 L602.1 70.0 L602.1 71.0 L602.1 72.0 L602.1 73.0 L602.1 74.0 L602.1 75.0 L602.1 76.0 L602.1 77.0 L602.1 78.0 L602.1 79.0 L602.1 80.0 L602.1 81.0 L602.1 82.0 L602.1 83.0 L602.1 84.0 L602.1 85.0 L602.0 86.0 L601.8 87.0 L601.7 88.0 L601.6 89.0 L601.5 90.0 L601.5 91.0 L601.4 92.0 L601.3 93.0 L601.3 94.0 L601.2 95.0 L601.1 96.0 L601.0 97.0 L600.9 98.0 L600.8 99.0 L600.7 100.0 L600.6 101.0 L600.5 102.0 L600.3 103.0 L600.2 104.0 L600.0 105.0 L599.9 106.0 L599.7 107.0 L599.6 108.0 L599.4 109.0 L599.2 110.0 L599.0 111.0 L598.8 112.0 L598.6 113.0 L598.4 114.0 L598.1 115.0 L597.9 116.0 L597.7 117.0 L597.5 118.0 L597.2 119.0 L597.0 120.0 L596.7 121.0 L596.4 122.0 L596.1 123.0 L595.7 124.0 L595.4 125.0 L595.0 126.0 L594.6 127.0 L594.1 128.0 L593.6 129.0 L593.1 130.0 L592.6 131.0 L592.1 132.0 L591.6 133.0 L591.0 134.0 L590.5 135.0 L590.0 136.0 L589.5 137.0 L589.0 138.0 L588.5 139.0 L588.0 140.0 L587.5 141.0 L586.9 142.0 L586.4 143.0 L585.9 144.0 L585.4 145.0 L585.0 146.0 L584.7 147.0 L584.4 148.0 L584.0 149.0 L583.8 150.0 L583.5 151.0 L583.3 152.0 L583.2 153.0 L583.1 154.0 L583.1 155.0 L583.0 156.0 L583.0 157.0 L583.1 158.0 L583.5 159.0 L584.0 160.0 L584.6 161.0 L585.3 162.0 L586.2 163.0 L587.2 164.0 L588.0 165.0 L588.8 166.0 L589.6 167.0 L590.2 168.0 L590.4 169.0 L590.4 170.0 L590.5 171.0 L590.5 172.0 L590.6 173.0 L591.0 174.0 L591.5 175.0 L592.1 176.0 L592.7 177.0 L593.5 178.0 L594.3 179.0 L595.1 180.0 L596.0 181.0 L596.8 182.0 L597.8 183.0 L598.8 184.0 L599.9 185.0 L601.1 186.0 L602.1 186.8 L602.1 186.8 L603.1 186.0 L604.3 185.0 L605.4 184.0 L606.4 183.0 L607.4 182.0 L608.2 181.0 L609.1 180.0 L609.9 179.0 L610.7 178.0 L611.5 177.0 L612.1 176.0 L612.7 175.0 L613.2 174.0 L613.6 173.0 L613.7 172.0 L613.7 171.0 L613.8 170.0 L613.8 169.0 L614.0 168.0 L614.6 167.0 L615.4 166.0 L616.2 165.0 L617.0 164.0 L618.0 163.0 L618.9 162.0 L619.6 161.0 L620.2 160.0 L620.7 159.0 L621.1 158.0 L621.2 157.0 L621.2 156.0 L621.1 155.0 L621.1 154.0 L621.0 153.0 L620.9 152.0 L620.7 151.0 L620.4 150.0 L620.2 149.0 L619.8 148.0 L619.5 147.0 L619.2 146.0 L618.8 145.0 L618.3 144.0 L617.8 143.0 L617.3 142.0 L616.7 141.0 L616.2 140.0 L615.7 139.0 L615.2 138.0 L614.7 137.0 L614.2 136.0 L613.7 135.0 L613.2 134.0 L612.6 133.0 L612.1 132.0 L611.6 131.0 L611.1 130.0 L610.6 129.0 L610.1 128.0 L609.6 127.0 L609.2 126.0 L608.8 125.0 L608.5 124.0 L608.1 123.0 L607.8 122.0 L607.5 121.0 L607.2 120.0 L607.0 119.0 L606.7 118.0 L606.5 117.0 L606.3 116.0 L606.1 115.0 L605.8 114.0 L605.6 113.0 L605.4 112.0 L605.2 111.0 L605.0 110.0 L604.8 109.0 L604.6 108.0 L604.5 107.0 L604.3 106.0 L604.2 105.0 L604.0 104.0 L603.9 103.0 L603.7 102.0 L603.6 101.0 L603.5 100.0 L603.4 99.0 L603.3 98.0 L603.2 97.0 L603.1 96.0 L603.0 95.0 L602.9 94.0 L602.9 93.0 L602.8 92.0 L602.7 91.0 L602.7 90.0 L602.6 89.0 L602.5 88.0 L602.4 87.0 L602.2 86.0 L602.1 85.0 L602.1 84.0 L602.1 83.0 L602.1 82.0 L602.1 81.0 L602.1 80.0 L602.1 79.0 L602.1 78.0 L602.1 77.0 L602.1 76.0 L602.1 75.0 L602.1 74.0 L602.1 73.0 L602.1 72.0 L602.1 71.0 L602.1 70.0 L602.1 69.0 L602.1 68.0 L602.1 67.0 L602.1 66.0 L602.1 65.0 L602.1 64.0 L602.1 63.0 L602.1 62.0 L602.1 61.0 L602.1 60.0 L602.1 59.0 L602.1 58.0 L602.1 57.0 L602.1 56.0 L602.1 55.0 L602.1 54.0 L602.1 53.0 L602.1 52.0 L602.1 51.0 L602.1 50.0 L602.1 49.0 L602.1 48.0 L602.1 47.0 L602.1 46.0 L602.1 45.0 L602.1 44.0 L602.1 43.0 L602.1 42.0 L602.1 41.0 L602.1 40.0 L602.1 39.0 L602.1 38.0 L602.1 37.0 L602.1 36.0 L602.1 35.0 L602.1 34.0 L602.1 33.0 L602.1 32.0 L602.1 31.0Z" fill="#94D044" stroke="#545a4e" stroke-width="0.65" stroke-linejoin="round"/>
<line x1="588.85" x2="615.35" y1="139.5" y2="139.5" stroke="#3c5a12" stroke-opacity="0.75" stroke-width="0.9" stroke-dasharray="1.4 1.6"/>
<line x1="583.84" x2="620.36" y1="152.6" y2="152.6" stroke="#3c5a12" stroke-opacity="0.75" stroke-width="0.9" stroke-dasharray="4 2.4"/>
<line x1="587.1" x2="617.1" y1="163.3" y2="163.3" stroke="#3c5a12" stroke-opacity="0.75" stroke-width="0.9" stroke-dasharray="1.4 1.6"/>
<text x="451.3" y="34" font-size="14" text-anchor="middle" fill="#1a1a1a" >11.76</text>
<text x="528.2" y="34" font-size="14" text-anchor="middle" fill="#1a1a1a" >14.74</text>
<text x="602.2" y="34" font-size="14" text-anchor="middle" fill="#1a1a1a" >20.70</text>
<text class="pl" transform="translate(348.4 24.8) scale(1.13 1)" font-size="23" font-weight="bold" fill="#000" stroke="#000" stroke-width="1" stroke-linejoin="round">m</text>
<rect x="68.6" y="484" width="234.4" height="181" fill="none" stroke="#7a7a7a" stroke-width="1"/>
<line x1="64" x2="68.6" y1="656" y2="656" stroke="#7a7a7a" stroke-width="1"/>
<text x="58" y="661" font-size="14" text-anchor="end" fill="#1a1a1a" >25</text>
<line x1="64" x2="68.6" y1="633.86" y2="633.86" stroke="#7a7a7a" stroke-width="1"/>
<text x="58.5" y="638.86" font-size="14" text-anchor="end" fill="#1a1a1a" letter-spacing="0.5">50</text>
<line x1="64" x2="68.6" y1="611.72" y2="611.72" stroke="#7a7a7a" stroke-width="1"/>
<text x="58" y="616.72" font-size="14" text-anchor="end" fill="#1a1a1a" >75</text>
<line x1="64" x2="68.6" y1="589.57" y2="589.57" stroke="#7a7a7a" stroke-width="1"/>
<text x="58.7" y="594.57" font-size="14" text-anchor="end" fill="#1a1a1a" letter-spacing="0.7">100</text>
<line x1="64" x2="68.6" y1="567.43" y2="567.43" stroke="#7a7a7a" stroke-width="1"/>
<text x="58" y="572.43" font-size="14" text-anchor="end" fill="#1a1a1a" >125</text>
<line x1="64" x2="68.6" y1="545.29" y2="545.29" stroke="#7a7a7a" stroke-width="1"/>
<text x="58.3" y="550.29" font-size="14" text-anchor="end" fill="#1a1a1a" letter-spacing="0.3">150</text>
<line x1="64" x2="68.6" y1="523.14" y2="523.14" stroke="#7a7a7a" stroke-width="1"/>
<text x="57.6" y="528.14" font-size="14" text-anchor="end" fill="#1a1a1a" letter-spacing="-0.4">175</text>
<line x1="64" x2="68.6" y1="501" y2="501" stroke="#7a7a7a" stroke-width="1"/>
<text x="59" y="506" font-size="14" text-anchor="end" fill="#1a1a1a" letter-spacing="1.0">200</text>
<line x1="107.4" x2="107.4" y1="665" y2="669.4" stroke="#7a7a7a" stroke-width="1"/>
<text x="107.65" y="686" font-size="14" text-anchor="middle" fill="#1a1a1a" letter-spacing="0.5">42 h</text>
<line x1="185.6" x2="185.6" y1="665" y2="669.4" stroke="#7a7a7a" stroke-width="1"/>
<text x="185.85" y="686" font-size="14" text-anchor="middle" fill="#1a1a1a" letter-spacing="0.5">66 h</text>
<line x1="263.6" x2="263.6" y1="665" y2="669.4" stroke="#7a7a7a" stroke-width="1"/>
<text x="263.85" y="686" font-size="14" text-anchor="middle" fill="#1a1a1a" letter-spacing="0.5">90 h</text>
<text transform="translate(21.5 575.6) rotate(-90)" font-size="17" letter-spacing="0.12" text-anchor="middle" fill="#1a1a1a">Track length (µm)</text>
<path d="M107.3 567.0 L107.2 568.0 L107.0 569.0 L106.7 570.0 L106.3 571.0 L105.7 572.0 L104.9 573.0 L104.2 574.0 L103.3 575.0 L102.5 576.0 L101.6 577.0 L100.8 578.0 L100.0 579.0 L99.1 580.0 L98.3 581.0 L97.6 582.0 L97.0 583.0 L96.5 584.0 L96.1 585.0 L95.7 586.0 L95.3 587.0 L95.0 588.0 L94.7 589.0 L94.4 590.0 L94.2 591.0 L94.0 592.0 L93.8 593.0 L93.5 594.0 L93.2 595.0 L92.9 596.0 L92.5 597.0 L92.0 598.0 L91.4 599.0 L90.8 600.0 L90.2 601.0 L89.4 602.0 L88.5 603.0 L87.4 604.0 L86.3 605.0 L85.2 606.0 L84.2 607.0 L83.3 608.0 L82.3 609.0 L81.3 610.0 L80.5 611.0 L79.7 612.0 L79.1 613.0 L78.6 614.0 L78.1 615.0 L77.6 616.0 L77.2 617.0 L77.0 618.0 L77.0 619.0 L77.0 620.0 L77.1 621.0 L77.2 622.0 L77.3 623.0 L77.6 624.0 L78.3 625.0 L79.2 626.0 L80.2 627.0 L81.2 628.0 L82.5 629.0 L83.9 630.0 L85.4 631.0 L86.9 632.0 L88.4 633.0 L89.8 634.0 L91.3 635.0 L92.7 636.0 L94.1 637.0 L95.4 638.0 L96.7 639.0 L97.8 640.0 L99.0 641.0 L100.1 642.0 L101.1 643.0 L101.9 644.0 L102.7 645.0 L103.3 646.0 L103.8 647.0 L104.3 648.0 L104.8 649.0 L105.2 650.0 L105.6 651.0 L105.9 652.0 L106.2 653.0 L106.5 654.0 L106.8 655.0 L107.0 656.0 L107.2 657.0 L107.3 657.4 L107.3 657.4 L107.4 657.0 L107.6 656.0 L107.8 655.0 L108.1 654.0 L108.4 653.0 L108.7 652.0 L109.0 651.0 L109.4 650.0 L109.8 649.0 L110.3 648.0 L110.8 647.0 L111.3 646.0 L111.9 645.0 L112.7 644.0 L113.5 643.0 L114.5 642.0 L115.6 641.0 L116.8 640.0 L117.9 639.0 L119.2 638.0 L120.5 637.0 L121.9 636.0 L123.3 635.0 L124.8 634.0 L126.2 633.0 L127.7 632.0 L129.2 631.0 L130.7 630.0 L132.1 629.0 L133.4 628.0 L134.4 627.0 L135.4 626.0 L136.3 625.0 L137.0 624.0 L137.3 623.0 L137.4 622.0 L137.5 621.0 L137.6 620.0 L137.6 619.0 L137.6 618.0 L137.4 617.0 L137.0 616.0 L136.5 615.0 L136.0 614.0 L135.5 613.0 L134.9 612.0 L134.1 611.0 L133.3 610.0 L132.3 609.0 L131.3 608.0 L130.4 607.0 L129.4 606.0 L128.3 605.0 L127.2 604.0 L126.1 603.0 L125.2 602.0 L124.4 601.0 L123.8 600.0 L123.2 599.0 L122.6 598.0 L122.1 597.0 L121.7 596.0 L121.4 595.0 L121.1 594.0 L120.8 593.0 L120.6 592.0 L120.4 591.0 L120.2 590.0 L119.9 589.0 L119.6 588.0 L119.3 587.0 L118.9 586.0 L118.5 585.0 L118.1 584.0 L117.6 583.0 L117.0 582.0 L116.3 581.0 L115.5 580.0 L114.6 579.0 L113.8 578.0 L113.0 577.0 L112.1 576.0 L111.3 575.0 L110.4 574.0 L109.7 573.0 L108.9 572.0 L108.3 571.0 L107.9 570.0 L107.6 569.0 L107.4 568.0 L107.3 567.0Z" fill="#B41B55" stroke="#5c4e53" stroke-width="0.65" stroke-linejoin="round"/>
<line x1="86.32" x2="128.28" y1="605.5" y2="605.5" stroke="#2b2b2b" stroke-opacity="0.17" stroke-width="0.8" stroke-dasharray="1.4 1.6"/>
<line x1="77.77" x2="136.83" y1="617.3" y2="617.3" stroke="#2b2b2b" stroke-opacity="0.17" stroke-width="0.8" stroke-dasharray="4 2.4"/>
<line x1="81.5" x2="133.1" y1="627.7" y2="627.7" stroke="#2b2b2b" stroke-opacity="0.17" stroke-width="0.8" stroke-dasharray="1.4 1.6"/>
<path d="M185.5 546.1 L185.3 547.1 L185.1 548.1 L184.9 549.1 L184.7 550.1 L184.5 551.1 L184.2 552.1 L183.9 553.1 L183.7 554.1 L183.4 555.1 L183.1 556.1 L182.8 557.1 L182.5 558.1 L182.2 559.1 L181.9 560.1 L181.7 561.1 L181.4 562.1 L181.0 563.1 L180.7 564.1 L180.3 565.1 L180.0 566.1 L179.6 567.1 L179.2 568.1 L178.7 569.1 L178.2 570.1 L177.7 571.1 L177.0 572.1 L176.2 573.1 L175.2 574.1 L174.2 575.1 L173.1 576.1 L171.9 577.1 L170.6 578.1 L169.2 579.1 L167.8 580.1 L166.4 581.1 L165.1 582.1 L163.9 583.1 L162.6 584.1 L161.4 585.1 L160.3 586.1 L159.3 587.1 L158.3 588.1 L157.3 589.1 L156.4 590.1 L155.7 591.1 L155.1 592.1 L154.7 593.1 L154.3 594.1 L154.0 595.1 L153.7 596.1 L153.6 597.1 L153.6 598.1 L153.9 599.1 L154.3 600.1 L154.8 601.1 L155.5 602.1 L156.1 603.1 L157.0 604.1 L158.2 605.1 L159.5 606.1 L160.8 607.1 L162.1 608.1 L163.4 609.1 L164.8 610.1 L166.1 611.1 L167.5 612.1 L168.8 613.1 L170.0 614.1 L171.2 615.1 L172.4 616.1 L173.6 617.1 L174.6 618.1 L175.6 619.1 L176.5 620.1 L177.4 621.1 L178.2 622.1 L178.9 623.1 L179.4 624.1 L179.8 625.1 L180.2 626.1 L180.5 627.1 L180.8 628.1 L181.1 629.1 L181.4 630.1 L181.6 631.1 L181.8 632.1 L182.0 633.1 L182.1 634.1 L182.3 635.1 L182.4 636.1 L182.6 637.1 L182.8 638.1 L183.0 639.1 L183.2 640.1 L183.4 641.1 L183.6 642.1 L183.8 643.1 L184.0 644.1 L184.2 645.1 L184.4 646.1 L184.5 647.1 L184.7 648.1 L184.9 649.1 L185.0 650.1 L185.2 651.1 L185.3 652.1 L185.5 653.1 L185.5 653.3 L185.5 653.3 L185.5 653.1 L185.7 652.1 L185.8 651.1 L186.0 650.1 L186.1 649.1 L186.3 648.1 L186.5 647.1 L186.6 646.1 L186.8 645.1 L187.0 644.1 L187.2 643.1 L187.4 642.1 L187.6 641.1 L187.8 640.1 L188.0 639.1 L188.2 638.1 L188.4 637.1 L188.6 636.1 L188.7 635.1 L188.9 634.1 L189.0 633.1 L189.2 632.1 L189.4 631.1 L189.6 630.1 L189.9 629.1 L190.2 628.1 L190.5 627.1 L190.8 626.1 L191.2 625.1 L191.6 624.1 L192.1 623.1 L192.8 622.1 L193.6 621.1 L194.5 620.1 L195.4 619.1 L196.4 618.1 L197.4 617.1 L198.6 616.1 L199.8 615.1 L201.0 614.1 L202.2 613.1 L203.5 612.1 L204.9 611.1 L206.2 610.1 L207.6 609.1 L208.9 608.1 L210.2 607.1 L211.5 606.1 L212.8 605.1 L214.0 604.1 L214.9 603.1 L215.5 602.1 L216.2 601.1 L216.7 600.1 L217.1 599.1 L217.4 598.1 L217.4 597.1 L217.3 596.1 L217.0 595.1 L216.7 594.1 L216.3 593.1 L215.9 592.1 L215.3 591.1 L214.6 590.1 L213.7 589.1 L212.7 588.1 L211.7 587.1 L210.7 586.1 L209.6 585.1 L208.4 584.1 L207.1 583.1 L205.9 582.1 L204.6 581.1 L203.2 580.1 L201.8 579.1 L200.4 578.1 L199.1 577.1 L197.9 576.1 L196.8 575.1 L195.8 574.1 L194.8 573.1 L194.0 572.1 L193.3 571.1 L192.8 570.1 L192.3 569.1 L191.8 568.1 L191.4 567.1 L191.0 566.1 L190.7 565.1 L190.3 564.1 L190.0 563.1 L189.6 562.1 L189.3 561.1 L189.1 560.1 L188.8 559.1 L188.5 558.1 L188.2 557.1 L187.9 556.1 L187.6 555.1 L187.3 554.1 L187.1 553.1 L186.8 552.1 L186.5 551.1 L186.3 550.1 L186.1 549.1 L185.9 548.1 L185.7 547.1 L185.5 546.1Z" fill="#2E73C3" stroke="#4e535a" stroke-width="0.65" stroke-linejoin="round"/>
<line x1="157.47" x2="213.53" y1="589.6" y2="589.6" stroke="#2b2b2b" stroke-opacity="0.17" stroke-width="0.8" stroke-dasharray="1.4 1.6"/>
<line x1="154.3" x2="216.7" y1="598.4" y2="598.4" stroke="#2b2b2b" stroke-opacity="0.17" stroke-width="0.8" stroke-dasharray="4 2.4"/>
<line x1="161.7" x2="209.3" y1="607.3" y2="607.3" stroke="#2b2b2b" stroke-opacity="0.17" stroke-width="0.8" stroke-dasharray="1.4 1.6"/>
<path d="M263.5 491.3 L263.4 492.3 L263.3 493.3 L263.2 494.3 L263.1 495.3 L262.9 496.3 L262.7 497.3 L262.6 498.3 L262.4 499.3 L262.1 500.3 L261.9 501.3 L261.6 502.3 L261.3 503.3 L261.0 504.3 L260.8 505.3 L260.5 506.3 L260.3 507.3 L260.0 508.3 L259.8 509.3 L259.5 510.3 L259.3 511.3 L259.0 512.3 L258.8 513.3 L258.5 514.3 L258.3 515.3 L258.0 516.3 L257.8 517.3 L257.5 518.3 L257.3 519.3 L257.1 520.3 L256.8 521.3 L256.6 522.3 L256.3 523.3 L256.0 524.3 L255.8 525.3 L255.5 526.3 L255.1 527.3 L254.8 528.3 L254.4 529.3 L254.0 530.3 L253.6 531.3 L253.1 532.3 L252.7 533.3 L252.2 534.3 L251.8 535.3 L251.3 536.3 L250.7 537.3 L250.2 538.3 L249.6 539.3 L249.1 540.3 L248.6 541.3 L248.1 542.3 L247.6 543.3 L247.2 544.3 L246.8 545.3 L246.4 546.3 L246.1 547.3 L245.7 548.3 L245.4 549.3 L245.1 550.3 L244.8 551.3 L244.6 552.3 L244.4 553.3 L244.2 554.3 L244.0 555.3 L243.8 556.3 L243.6 557.3 L243.5 558.3 L243.4 559.3 L243.4 560.3 L243.4 561.3 L243.4 562.3 L243.4 563.3 L243.4 564.3 L243.5 565.3 L243.5 566.3 L243.5 567.3 L243.6 568.3 L243.6 569.3 L243.8 570.3 L243.9 571.3 L244.2 572.3 L244.4 573.3 L244.7 574.3 L245.0 575.3 L245.3 576.3 L245.7 577.3 L246.0 578.3 L246.4 579.3 L246.9 580.3 L247.4 581.3 L247.9 582.3 L248.4 583.3 L248.9 584.3 L249.4 585.3 L249.8 586.3 L250.3 587.3 L250.8 588.3 L251.4 589.3 L251.9 590.3 L252.4 591.3 L252.8 592.3 L253.3 593.3 L253.7 594.3 L254.1 595.3 L254.5 596.3 L254.9 597.3 L255.2 598.3 L255.6 599.3 L255.9 600.3 L256.2 601.3 L256.5 602.3 L256.8 603.3 L257.1 604.3 L257.3 605.3 L257.6 606.3 L257.8 607.3 L258.0 608.3 L258.3 609.3 L258.5 610.3 L258.7 611.3 L258.9 612.3 L259.1 613.3 L259.3 614.3 L259.5 615.3 L259.7 616.3 L259.9 617.3 L260.1 618.3 L260.3 619.3 L260.5 620.3 L260.7 621.3 L260.9 622.3 L261.1 623.3 L261.2 624.3 L261.4 625.3 L261.6 626.3 L261.8 627.3 L261.9 628.3 L262.1 629.3 L262.3 630.3 L262.4 631.3 L262.6 632.3 L262.7 633.3 L262.9 634.3 L263.0 635.3 L263.1 636.3 L263.3 637.3 L263.4 638.3 L263.5 639.1 L263.5 639.1 L263.6 638.3 L263.7 637.3 L263.9 636.3 L264.0 635.3 L264.1 634.3 L264.3 633.3 L264.4 632.3 L264.6 631.3 L264.7 630.3 L264.9 629.3 L265.1 628.3 L265.2 627.3 L265.4 626.3 L265.6 625.3 L265.8 624.3 L265.9 623.3 L266.1 622.3 L266.3 621.3 L266.5 620.3 L266.7 619.3 L266.9 618.3 L267.1 617.3 L267.3 616.3 L267.5 615.3 L267.7 614.3 L267.9 613.3 L268.1 612.3 L268.3 611.3 L268.5 610.3 L268.7 609.3 L269.0 608.3 L269.2 607.3 L269.4 606.3 L269.7 605.3 L269.9 604.3 L270.2 603.3 L270.5 602.3 L270.8 601.3 L271.1 600.3 L271.4 599.3 L271.8 598.3 L272.1 597.3 L272.5 596.3 L272.9 595.3 L273.3 594.3 L273.7 593.3 L274.2 592.3 L274.6 591.3 L275.1 590.3 L275.6 589.3 L276.2 588.3 L276.7 587.3 L277.2 586.3 L277.6 585.3 L278.1 584.3 L278.6 583.3 L279.1 582.3 L279.6 581.3 L280.1 580.3 L280.6 579.3 L281.0 578.3 L281.3 577.3 L281.7 576.3 L282.0 575.3 L282.3 574.3 L282.6 573.3 L282.8 572.3 L283.1 571.3 L283.2 570.3 L283.4 569.3 L283.4 568.3 L283.5 567.3 L283.5 566.3 L283.5 565.3 L283.6 564.3 L283.6 563.3 L283.6 562.3 L283.6 561.3 L283.6 560.3 L283.6 559.3 L283.5 558.3 L283.4 557.3 L283.2 556.3 L283.0 555.3 L282.8 554.3 L282.6 553.3 L282.4 552.3 L282.2 551.3 L281.9 550.3 L281.6 549.3 L281.3 548.3 L280.9 547.3 L280.6 546.3 L280.2 545.3 L279.8 544.3 L279.4 543.3 L278.9 542.3 L278.4 541.3 L277.9 540.3 L277.4 539.3 L276.8 538.3 L276.3 537.3 L275.7 536.3 L275.2 535.3 L274.8 534.3 L274.3 533.3 L273.9 532.3 L273.4 531.3 L273.0 530.3 L272.6 529.3 L272.2 528.3 L271.9 527.3 L271.5 526.3 L271.2 525.3 L271.0 524.3 L270.7 523.3 L270.4 522.3 L270.2 521.3 L269.9 520.3 L269.7 519.3 L269.5 518.3 L269.2 517.3 L269.0 516.3 L268.7 515.3 L268.5 514.3 L268.2 513.3 L268.0 512.3 L267.7 511.3 L267.5 510.3 L267.2 509.3 L267.0 508.3 L266.7 507.3 L266.5 506.3 L266.2 505.3 L266.0 504.3 L265.7 503.3 L265.4 502.3 L265.1 501.3 L264.9 500.3 L264.6 499.3 L264.4 498.3 L264.3 497.3 L264.1 496.3 L263.9 495.3 L263.8 494.3 L263.7 493.3 L263.6 492.3 L263.5 491.3Z" fill="#94D044" stroke="#545a4e" stroke-width="0.65" stroke-linejoin="round"/>
<line x1="246.48" x2="280.52" y1="547.8" y2="547.8" stroke="#3c5a12" stroke-opacity="0.75" stroke-width="0.9" stroke-dasharray="1.4 1.6"/>
<line x1="244.13" x2="282.87" y1="567" y2="567" stroke="#3c5a12" stroke-opacity="0.75" stroke-width="0.9" stroke-dasharray="4 2.4"/>
<line x1="246.78" x2="280.22" y1="578.7" y2="578.7" stroke="#3c5a12" stroke-opacity="0.75" stroke-width="0.9" stroke-dasharray="1.4 1.6"/>
<text x="101" y="480" font-size="14" text-anchor="middle" fill="#1a1a1a" >68.74</text>
<text x="178.8" y="480" font-size="14" text-anchor="middle" fill="#1a1a1a" letter-spacing="0.8">90.06</text>
<text x="258.6" y="480" font-size="14" text-anchor="middle" fill="#1a1a1a" >125.49</text>
<text class="pl" transform="translate(7 472) scale(1.13 1)" font-size="23" font-weight="bold" fill="#000" stroke="#000" stroke-width="1" stroke-linejoin="round">o</text>
<rect x="379.6" y="483.6" width="261" height="181.4" fill="none" stroke="#7a7a7a" stroke-width="1"/>
<line x1="374.4" x2="379.6" y1="659" y2="659" stroke="#7a7a7a" stroke-width="1"/>
<text x="369" y="664" font-size="14" text-anchor="end" fill="#1a1a1a" >0</text>
<line x1="374.4" x2="379.6" y1="638.68" y2="638.68" stroke="#7a7a7a" stroke-width="1"/>
<text x="369" y="643.68" font-size="14" text-anchor="end" fill="#1a1a1a" >0.2</text>
<line x1="374.4" x2="379.6" y1="618.36" y2="618.36" stroke="#7a7a7a" stroke-width="1"/>
<text x="369" y="623.36" font-size="14" text-anchor="end" fill="#1a1a1a" >0.4</text>
<line x1="374.4" x2="379.6" y1="598.04" y2="598.04" stroke="#7a7a7a" stroke-width="1"/>
<text x="369" y="603.04" font-size="14" text-anchor="end" fill="#1a1a1a" >0.6</text>
<line x1="374.4" x2="379.6" y1="577.72" y2="577.72" stroke="#7a7a7a" stroke-width="1"/>
<text x="369" y="582.72" font-size="14" text-anchor="end" fill="#1a1a1a" >0.8</text>
<line x1="374.4" x2="379.6" y1="557.4" y2="557.4" stroke="#7a7a7a" stroke-width="1"/>
<text x="369" y="562.4" font-size="14" text-anchor="end" fill="#1a1a1a" >1.0</text>
<line x1="374.4" x2="379.6" y1="537.08" y2="537.08" stroke="#7a7a7a" stroke-width="1"/>
<text x="369" y="542.08" font-size="14" text-anchor="end" fill="#1a1a1a" >1.2</text>
<line x1="374.4" x2="379.6" y1="516.76" y2="516.76" stroke="#7a7a7a" stroke-width="1"/>
<text x="369" y="521.76" font-size="14" text-anchor="end" fill="#1a1a1a" >1.4</text>
<line x1="374.4" x2="379.6" y1="496.44" y2="496.44" stroke="#7a7a7a" stroke-width="1"/>
<text x="369" y="501.44" font-size="14" text-anchor="end" fill="#1a1a1a" >1.6</text>
<line x1="391.5" x2="391.5" y1="665" y2="669.6" stroke="#7a7a7a" stroke-width="1"/>
<text x="391.5" y="688.8" font-size="14" text-anchor="middle" fill="#1a1a1a" letter-spacing="0">0</text>
<line x1="437.5" x2="437.5" y1="665" y2="669.6" stroke="#7a7a7a" stroke-width="1"/>
<text x="437.5" y="688.8" font-size="14" text-anchor="middle" fill="#1a1a1a" letter-spacing="0">1</text>
<line x1="483.5" x2="483.5" y1="665" y2="669.6" stroke="#7a7a7a" stroke-width="1"/>
<text x="483.5" y="688.8" font-size="14" text-anchor="middle" fill="#1a1a1a" letter-spacing="0">2</text>
<line x1="529.5" x2="529.5" y1="665" y2="669.6" stroke="#7a7a7a" stroke-width="1"/>
<text x="529.5" y="688.8" font-size="14" text-anchor="middle" fill="#1a1a1a" letter-spacing="0">3</text>
<line x1="575.5" x2="575.5" y1="665" y2="669.6" stroke="#7a7a7a" stroke-width="1"/>
<text x="575.5" y="688.8" font-size="14" text-anchor="middle" fill="#1a1a1a" letter-spacing="0">4</text>
<line x1="621.5" x2="621.5" y1="665" y2="669.6" stroke="#7a7a7a" stroke-width="1"/>
<text x="621.5" y="688.8" font-size="14" text-anchor="middle" fill="#1a1a1a" letter-spacing="0">5</text>
<text x="510.8" y="708.4" font-size="17" letter-spacing="0.3" text-anchor="middle" fill="#1a1a1a"><tspan font-style="italic">t</tspan> (h)</text>
<text transform="translate(338.5 574.4) rotate(-90)" font-size="16.5" text-anchor="middle" letter-spacing="0.3" fill="#1a1a1a">m.s.d.<tspan font-size="11" dy="4.8">3D</tspan><tspan dy="-4.8"> (µm</tspan><tspan font-size="11" dy="-8.2">2</tspan><tspan dy="8.2"> × 10</tspan><tspan font-size="11" dy="-8.2">3</tspan><tspan dy="8.2">)</tspan></text>
<circle cx="391.5" cy="658" r="1.95" fill="#AA1A4C"/>
<circle cx="399.17" cy="655" r="1.95" fill="#AA1A4C"/>
<circle cx="406.83" cy="652" r="1.95" fill="#AA1A4C"/>
<circle cx="414.5" cy="649.4" r="1.95" fill="#AA1A4C"/>
<circle cx="422.17" cy="648" r="1.95" fill="#AA1A4C"/>
<circle cx="429.83" cy="646.4" r="1.95" fill="#AA1A4C"/>
<circle cx="437.5" cy="645" r="1.95" fill="#AA1A4C"/>
<circle cx="445.17" cy="642" r="1.95" fill="#AA1A4C"/>
<circle cx="452.83" cy="640.6" r="1.95" fill="#AA1A4C"/>
<circle cx="460.5" cy="638.6" r="1.95" fill="#AA1A4C"/>
<circle cx="468.17" cy="635.4" r="1.95" fill="#AA1A4C"/>
<circle cx="475.83" cy="632" r="1.95" fill="#AA1A4C"/>
<circle cx="483.5" cy="628.4" r="1.95" fill="#AA1A4C"/>
<circle cx="491.17" cy="625.6" r="1.95" fill="#AA1A4C"/>
<circle cx="498.83" cy="624" r="1.95" fill="#AA1A4C"/>
<circle cx="506.5" cy="622" r="1.95" fill="#AA1A4C"/>
<circle cx="514.17" cy="620.1" r="1.95" fill="#AA1A4C"/>
<circle cx="521.83" cy="620.1" r="1.95" fill="#AA1A4C"/>
<circle cx="529.5" cy="618.4" r="1.95" fill="#AA1A4C"/>
<circle cx="537.17" cy="617.2" r="1.95" fill="#AA1A4C"/>
<circle cx="544.83" cy="616.1" r="1.95" fill="#AA1A4C"/>
<circle cx="552.5" cy="613.5" r="1.95" fill="#AA1A4C"/>
<circle cx="560.17" cy="613.9" r="1.95" fill="#AA1A4C"/>
<circle cx="567.83" cy="612.3" r="1.95" fill="#AA1A4C"/>
<circle cx="575.5" cy="609.9" r="1.95" fill="#AA1A4C"/>
<circle cx="583.17" cy="606.5" r="1.95" fill="#AA1A4C"/>
<circle cx="590.83" cy="605.4" r="1.95" fill="#AA1A4C"/>
<circle cx="598.5" cy="603.9" r="1.95" fill="#AA1A4C"/>
<circle cx="606.17" cy="602.7" r="1.95" fill="#AA1A4C"/>
<circle cx="613.83" cy="602.1" r="1.95" fill="#AA1A4C"/>
<circle cx="621.5" cy="599.8" r="1.95" fill="#AA1A4C"/>
<circle cx="629.17" cy="599.8" r="1.95" fill="#AA1A4C"/>
<circle cx="391.5" cy="657.4" r="1.95" fill="#2F6DB0"/>
<circle cx="399.17" cy="654" r="1.95" fill="#2F6DB0"/>
<circle cx="406.83" cy="650" r="1.95" fill="#2F6DB0"/>
<circle cx="414.5" cy="645.4" r="1.95" fill="#2F6DB0"/>
<circle cx="422.17" cy="643.4" r="1.95" fill="#2F6DB0"/>
<circle cx="429.83" cy="642" r="1.95" fill="#2F6DB0"/>
<circle cx="437.5" cy="638" r="1.95" fill="#2F6DB0"/>
<circle cx="445.17" cy="636" r="1.95" fill="#2F6DB0"/>
<circle cx="452.83" cy="634" r="1.95" fill="#2F6DB0"/>
<circle cx="460.5" cy="632.4" r="1.95" fill="#2F6DB0"/>
<circle cx="468.17" cy="631" r="1.95" fill="#2F6DB0"/>
<circle cx="475.83" cy="628.6" r="1.95" fill="#2F6DB0"/>
<circle cx="483.5" cy="625.4" r="1.95" fill="#2F6DB0"/>
<circle cx="491.17" cy="619.6" r="1.95" fill="#2F6DB0"/>
<circle cx="498.83" cy="614.4" r="1.95" fill="#2F6DB0"/>
<circle cx="506.5" cy="612.6" r="1.95" fill="#2F6DB0"/>
<circle cx="514.17" cy="611.2" r="1.95" fill="#2F6DB0"/>
<circle cx="521.83" cy="609.9" r="1.95" fill="#2F6DB0"/>
<circle cx="529.5" cy="609.9" r="1.95" fill="#2F6DB0"/>
<circle cx="537.17" cy="607.2" r="1.95" fill="#2F6DB0"/>
<circle cx="544.83" cy="604.5" r="1.95" fill="#2F6DB0"/>
<circle cx="552.5" cy="605" r="1.95" fill="#2F6DB0"/>
<circle cx="560.17" cy="601.6" r="1.95" fill="#2F6DB0"/>
<circle cx="567.83" cy="598.3" r="1.95" fill="#2F6DB0"/>
<circle cx="575.5" cy="598.3" r="1.95" fill="#2F6DB0"/>
<circle cx="583.17" cy="594.3" r="1.95" fill="#2F6DB0"/>
<circle cx="590.83" cy="595.2" r="1.95" fill="#2F6DB0"/>
<circle cx="598.5" cy="593.1" r="1.95" fill="#2F6DB0"/>
<circle cx="606.17" cy="590.5" r="1.95" fill="#2F6DB0"/>
<circle cx="613.83" cy="589.4" r="1.95" fill="#2F6DB0"/>
<circle cx="621.5" cy="586" r="1.95" fill="#2F6DB0"/>
<circle cx="629.17" cy="584.4" r="1.95" fill="#2F6DB0"/>
<circle cx="391.5" cy="657" r="1.95" fill="#95CB4A"/>
<circle cx="399.17" cy="651" r="1.95" fill="#95CB4A"/>
<circle cx="406.83" cy="643.4" r="1.95" fill="#95CB4A"/>
<circle cx="414.5" cy="635.6" r="1.95" fill="#95CB4A"/>
<circle cx="422.17" cy="629" r="1.95" fill="#95CB4A"/>
<circle cx="429.83" cy="623.6" r="1.95" fill="#95CB4A"/>
<circle cx="437.5" cy="617.4" r="1.95" fill="#95CB4A"/>
<circle cx="445.17" cy="611" r="1.95" fill="#95CB4A"/>
<circle cx="452.83" cy="606" r="1.95" fill="#95CB4A"/>
<circle cx="460.5" cy="601.4" r="1.95" fill="#95CB4A"/>
<circle cx="468.17" cy="594.4" r="1.95" fill="#95CB4A"/>
<circle cx="475.83" cy="593.4" r="1.95" fill="#95CB4A"/>
<circle cx="483.5" cy="590.4" r="1.95" fill="#95CB4A"/>
<circle cx="491.17" cy="587" r="1.95" fill="#95CB4A"/>
<circle cx="498.83" cy="580" r="1.95" fill="#95CB4A"/>
<circle cx="506.5" cy="577.3" r="1.95" fill="#95CB4A"/>
<circle cx="514.17" cy="571" r="1.95" fill="#95CB4A"/>
<circle cx="521.83" cy="567.7" r="1.95" fill="#95CB4A"/>
<circle cx="529.5" cy="558.6" r="1.95" fill="#95CB4A"/>
<circle cx="537.17" cy="557.4" r="1.95" fill="#95CB4A"/>
<circle cx="544.83" cy="552.5" r="1.95" fill="#95CB4A"/>
<circle cx="552.5" cy="548.1" r="1.95" fill="#95CB4A"/>
<circle cx="560.17" cy="542.5" r="1.95" fill="#95CB4A"/>
<circle cx="567.83" cy="536.5" r="1.95" fill="#95CB4A"/>
<circle cx="575.5" cy="536.2" r="1.95" fill="#95CB4A"/>
<circle cx="583.17" cy="534.2" r="1.95" fill="#95CB4A"/>
<circle cx="590.83" cy="529.1" r="1.95" fill="#95CB4A"/>
<circle cx="598.5" cy="520.8" r="1.95" fill="#95CB4A"/>
<circle cx="606.17" cy="512.8" r="1.95" fill="#95CB4A"/>
<circle cx="613.83" cy="505.2" r="1.95" fill="#95CB4A"/>
<circle cx="621.5" cy="497.9" r="1.95" fill="#95CB4A"/>
<circle cx="629.17" cy="491.8" r="1.95" fill="#95CB4A"/>
<circle cx="396" cy="497.6" r="1.7" fill="#AA1A4C"/>
<text x="404" y="501.7" font-size="11.3" text-anchor="start" fill="#1a1a1a" letter-spacing="0.35">42 h</text>
<circle cx="396" cy="517" r="1.7" fill="#2F6DB0"/>
<text x="404" y="521.1" font-size="11.3" text-anchor="start" fill="#1a1a1a" letter-spacing="0.35">66 h</text>
<circle cx="396" cy="536.4" r="1.7" fill="#95CB4A"/>
<text x="404" y="540.5" font-size="11.3" text-anchor="start" fill="#1a1a1a" letter-spacing="0.35">90 h</text>
<text class="pl" transform="translate(322.7 472) scale(1.13 1)" font-size="23" font-weight="bold" fill="#000" stroke="#000" stroke-width="1" stroke-linejoin="round">p</text>
<text class="pl" transform="translate(6.9 248) scale(1.13 1)" font-size="23" font-weight="bold" fill="#000" stroke="#000" stroke-width="1" stroke-linejoin="round">n</text>
</g>
</svg>
</body></html>
